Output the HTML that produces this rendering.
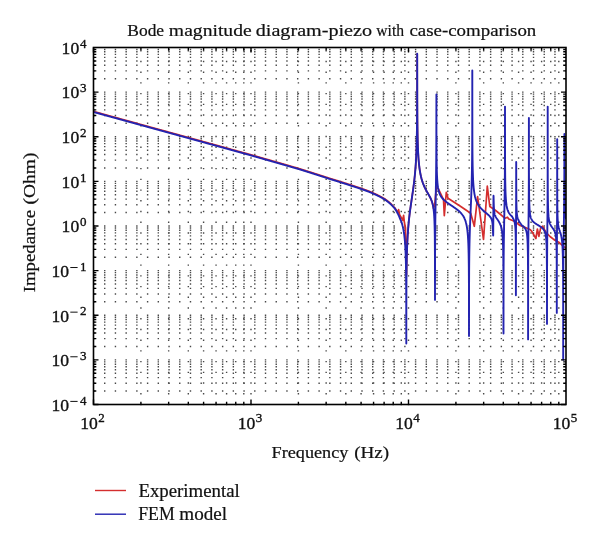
<!DOCTYPE html><html><head><meta charset="utf-8"><style>html,body{margin:0;padding:0;background:#fff;}svg{display:block;will-change:transform;}text{font-family:"Liberation Serif",serif;fill:#111;stroke:#111;stroke-width:0.35px;} text.w{stroke-width:0.22px;}</style></head><body>
<svg width="600" height="543" viewBox="0 0 600 543">
<rect x="0" y="0" width="600" height="543" fill="#fff"/>
<path d="M93.30 391.07H566.00 M93.30 383.21H566.00 M93.30 377.63H566.00 M93.30 373.31H566.00 M93.30 369.78H566.00 M93.30 366.79H566.00 M93.30 364.20H566.00 M93.30 361.92H566.00 M93.30 359.88H566.00 M93.30 346.44H566.00 M93.30 338.58H566.00 M93.30 333.01H566.00 M93.30 328.68H566.00 M93.30 325.15H566.00 M93.30 322.16H566.00 M93.30 319.57H566.00 M93.30 317.29H566.00 M93.30 315.25H566.00 M93.30 301.82H566.00 M93.30 293.96H566.00 M93.30 288.38H566.00 M93.30 284.06H566.00 M93.30 280.53H566.00 M93.30 277.54H566.00 M93.30 274.95H566.00 M93.30 272.67H566.00 M93.30 270.62H566.00 M93.30 257.19H566.00 M93.30 249.33H566.00 M93.30 243.76H566.00 M93.30 239.43H566.00 M93.30 235.90H566.00 M93.30 232.91H566.00 M93.30 230.32H566.00 M93.30 228.04H566.00 M93.30 226.00H566.00 M93.30 212.57H566.00 M93.30 204.71H566.00 M93.30 199.13H566.00 M93.30 194.81H566.00 M93.30 191.28H566.00 M93.30 188.29H566.00 M93.30 185.70H566.00 M93.30 183.42H566.00 M93.30 181.38H566.00 M93.30 167.94H566.00 M93.30 160.08H566.00 M93.30 154.51H566.00 M93.30 150.18H566.00 M93.30 146.65H566.00 M93.30 143.66H566.00 M93.30 141.07H566.00 M93.30 138.79H566.00 M93.30 136.75H566.00 M93.30 123.32H566.00 M93.30 115.46H566.00 M93.30 109.88H566.00 M93.30 105.56H566.00 M93.30 102.03H566.00 M93.30 99.04H566.00 M93.30 96.45H566.00 M93.30 94.17H566.00 M93.30 92.12H566.00 M93.30 78.69H566.00 M93.30 70.83H566.00 M93.30 65.26H566.00 M93.30 60.93H566.00 M93.30 57.40H566.00 M93.30 54.41H566.00 M93.30 51.82H566.00 M93.30 49.54H566.00" stroke="#484848" stroke-width="1.4" stroke-dasharray="1.4 9.32" fill="none"/>
<path d="M140.91 405.20V47.50 M168.65 405.20V47.50 M188.32 405.20V47.50 M203.59 405.20V47.50 M216.06 405.20V47.50 M226.60 405.20V47.50 M235.74 405.20V47.50 M243.79 405.20V47.50 M251.00 405.20V47.50 M298.41 405.20V47.50 M326.15 405.20V47.50 M345.82 405.20V47.50 M361.09 405.20V47.50 M373.56 405.20V47.50 M384.10 405.20V47.50 M393.24 405.20V47.50 M401.29 405.20V47.50 M408.50 405.20V47.50 M455.91 405.20V47.50 M483.65 405.20V47.50 M503.32 405.20V47.50 M518.59 405.20V47.50 M531.06 405.20V47.50 M541.60 405.20V47.50 M550.74 405.20V47.50 M558.79 405.20V47.50" stroke="#484848" stroke-width="1.4" stroke-dasharray="1.4 9.32" fill="none"/>
<clipPath id="cp"><rect x="93.5" y="46.5" width="472.5" height="359.0"/></clipPath>
<g clip-path="url(#cp)" fill="none" stroke-linejoin="round" stroke-linecap="round">
<path d="M93.50 111.43 93.74 111.49 93.97 111.56 94.21 111.62 94.45 111.69 94.68 111.75 94.92 111.82 95.15 111.88 95.39 111.95 95.63 112.01 95.86 112.08 96.10 112.14 96.34 112.21 96.57 112.27 96.81 112.34 97.04 112.40 97.28 112.47 97.52 112.53 97.75 112.60 97.99 112.66 98.23 112.73 98.46 112.79 98.70 112.86 98.93 112.92 99.17 112.99 99.41 113.05 99.64 113.12 99.88 113.18 100.12 113.25 100.35 113.31 100.59 113.38 100.82 113.44 101.06 113.51 101.30 113.57 101.53 113.64 101.77 113.70 102.01 113.77 102.24 113.83 102.48 113.90 102.71 113.96 102.95 114.03 103.19 114.09 103.42 114.16 103.66 114.22 103.90 114.29 104.13 114.35 104.37 114.42 104.61 114.48 104.84 114.55 105.08 114.61 105.31 114.68 105.55 114.74 105.79 114.81 106.02 114.87 106.26 114.94 106.50 115.00 106.73 115.07 106.97 115.13 107.20 115.20 107.44 115.26 107.68 115.32 107.91 115.39 108.15 115.45 108.39 115.52 108.62 115.58 108.86 115.65 109.09 115.71 109.33 115.78 109.57 115.84 109.80 115.91 110.04 115.97 110.28 116.04 110.51 116.10 110.75 116.17 110.98 116.23 111.22 116.30 111.46 116.36 111.69 116.43 111.93 116.49 112.17 116.56 112.40 116.62 112.64 116.69 112.87 116.75 113.11 116.82 113.35 116.88 113.58 116.95 113.82 117.01 114.06 117.08 114.29 117.14 114.53 117.21 114.77 117.27 115.00 117.34 115.24 117.40 115.47 117.47 115.71 117.53 115.95 117.60 116.18 117.66 116.42 117.73 116.66 117.79 116.89 117.86 117.13 117.92 117.36 117.99 117.60 118.05 117.84 118.12 118.07 118.18 118.31 118.25 118.55 118.31 118.78 118.38 119.02 118.44 119.25 118.51 119.49 118.57 119.73 118.64 119.96 118.70 120.20 118.77 120.44 118.83 120.67 118.90 120.91 118.96 121.14 119.03 121.38 119.09 121.62 119.16 121.85 119.22 122.09 119.29 122.33 119.35 122.56 119.42 122.80 119.48 123.03 119.55 123.27 119.61 123.51 119.68 123.74 119.74 123.98 119.81 124.22 119.87 124.45 119.94 124.69 120.00 124.93 120.07 125.16 120.13 125.40 120.20 125.63 120.26 125.87 120.33 126.11 120.39 126.34 120.46 126.58 120.52 126.82 120.59 127.05 120.65 127.29 120.72 127.52 120.78 127.76 120.85 128.00 120.91 128.23 120.98 128.47 121.04 128.71 121.11 128.94 121.17 129.18 121.24 129.41 121.30 129.65 121.37 129.89 121.43 130.12 121.49 130.36 121.56 130.60 121.62 130.83 121.69 131.07 121.75 131.30 121.82 131.54 121.88 131.78 121.95 132.01 122.01 132.25 122.08 132.49 122.14 132.72 122.21 132.96 122.27 133.19 122.34 133.43 122.40 133.67 122.47 133.90 122.53 134.14 122.60 134.38 122.66 134.61 122.73 134.85 122.79 135.09 122.86 135.32 122.92 135.56 122.99 135.79 123.05 136.03 123.12 136.27 123.18 136.50 123.25 136.74 123.31 136.98 123.38 137.21 123.44 137.45 123.51 137.68 123.57 137.92 123.64 138.16 123.70 138.39 123.77 138.63 123.83 138.87 123.90 139.10 123.96 139.34 124.03 139.57 124.09 139.81 124.16 140.05 124.22 140.28 124.29 140.52 124.35 140.76 124.42 140.99 124.48 141.23 124.55 141.46 124.61 141.70 124.68 141.94 124.74 142.17 124.81 142.41 124.87 142.65 124.94 142.88 125.00 143.12 125.07 143.35 125.13 143.59 125.20 143.83 125.26 144.06 125.33 144.30 125.39 144.54 125.46 144.77 125.52 145.01 125.59 145.25 125.65 145.48 125.72 145.72 125.78 145.95 125.85 146.19 125.91 146.43 125.98 146.66 126.04 146.90 126.11 147.14 126.17 147.37 126.24 147.61 126.30 147.84 126.37 148.08 126.43 148.32 126.50 148.55 126.56 148.79 126.63 149.03 126.69 149.26 126.76 149.50 126.82 149.73 126.89 149.97 126.95 150.21 127.02 150.44 127.08 150.68 127.15 150.92 127.21 151.15 127.28 151.39 127.34 151.62 127.41 151.86 127.47 152.10 127.54 152.33 127.60 152.57 127.67 152.81 127.73 153.04 127.80 153.28 127.86 153.52 127.93 153.75 127.99 153.99 128.06 154.22 128.12 154.46 128.19 154.70 128.25 154.93 128.32 155.17 128.38 155.41 128.45 155.64 128.51 155.88 128.58 156.11 128.64 156.35 128.71 156.59 128.77 156.82 128.84 157.06 128.90 157.30 128.97 157.53 129.03 157.77 129.09 158.00 129.16 158.24 129.22 158.48 129.29 158.71 129.35 158.95 129.42 159.19 129.48 159.42 129.55 159.66 129.61 159.89 129.68 160.13 129.74 160.37 129.81 160.60 129.87 160.84 129.94 161.08 130.00 161.31 130.07 161.55 130.13 161.78 130.20 162.02 130.26 162.26 130.33 162.49 130.39 162.73 130.46 162.97 130.52 163.20 130.59 163.44 130.65 163.68 130.72 163.91 130.78 164.15 130.85 164.38 130.91 164.62 130.98 164.86 131.04 165.09 131.11 165.33 131.17 165.57 131.24 165.80 131.30 166.04 131.37 166.27 131.43 166.51 131.50 166.75 131.56 166.98 131.63 167.22 131.69 167.46 131.76 167.69 131.82 167.93 131.89 168.16 131.95 168.40 132.02 168.64 132.08 168.87 132.15 169.11 132.21 169.35 132.28 169.58 132.34 169.82 132.41 170.05 132.47 170.29 132.54 170.53 132.60 170.76 132.67 171.00 132.73 171.24 132.80 171.47 132.86 171.71 132.93 171.94 132.99 172.18 133.06 172.42 133.12 172.65 133.19 172.89 133.25 173.13 133.32 173.36 133.38 173.60 133.45 173.84 133.51 174.07 133.58 174.31 133.64 174.54 133.71 174.78 133.77 175.02 133.84 175.25 133.90 175.49 133.97 175.73 134.03 175.96 134.10 176.20 134.16 176.43 134.23 176.67 134.29 176.91 134.36 177.14 134.42 177.38 134.49 177.62 134.55 177.85 134.62 178.09 134.68 178.32 134.75 178.56 134.81 178.80 134.88 179.03 134.94 179.27 135.01 179.51 135.07 179.74 135.14 179.98 135.20 180.21 135.27 180.45 135.33 180.69 135.40 180.92 135.46 181.16 135.53 181.40 135.59 181.63 135.66 181.87 135.72 182.10 135.79 182.34 135.85 182.58 135.92 182.81 135.98 183.05 136.05 183.29 136.11 183.52 136.18 183.76 136.24 184.00 136.31 184.23 136.37 184.47 136.44 184.70 136.50 184.94 136.57 185.18 136.63 185.41 136.70 185.65 136.76 185.89 136.83 186.12 136.89 186.36 136.96 186.59 137.02 186.83 137.09 187.07 137.15 187.30 137.22 187.54 137.28 187.78 137.35 188.01 137.41 188.25 137.48 188.48 137.54 188.72 137.61 188.96 137.67 189.19 137.74 189.43 137.80 189.67 137.87 189.90 137.93 190.14 138.00 190.37 138.06 190.61 138.13 190.85 138.19 191.08 138.26 191.32 138.32 191.56 138.39 191.79 138.45 192.03 138.52 192.26 138.58 192.50 138.65 192.74 138.71 192.97 138.78 193.21 138.84 193.45 138.91 193.68 138.97 193.92 139.04 194.16 139.10 194.39 139.17 194.63 139.23 194.86 139.30 195.10 139.36 195.34 139.43 195.57 139.49 195.81 139.56 196.05 139.62 196.28 139.69 196.52 139.75 196.75 139.82 196.99 139.88 197.23 139.95 197.46 140.01 197.70 140.08 197.94 140.14 198.17 140.21 198.41 140.27 198.64 140.34 198.88 140.40 199.12 140.47 199.35 140.53 199.59 140.60 199.83 140.66 200.06 140.73 200.30 140.79 200.53 140.86 200.77 140.92 201.01 140.99 201.24 141.05 201.48 141.12 201.72 141.18 201.95 141.25 202.19 141.31 202.42 141.38 202.66 141.44 202.90 141.51 203.13 141.57 203.37 141.64 203.61 141.70 203.84 141.77 204.08 141.83 204.32 141.90 204.55 141.96 204.79 142.03 205.02 142.09 205.26 142.16 205.50 142.23 205.73 142.29 205.97 142.36 206.21 142.42 206.44 142.49 206.68 142.55 206.91 142.62 207.15 142.68 207.39 142.75 207.62 142.81 207.86 142.88 208.10 142.94 208.33 143.01 208.57 143.07 208.80 143.14 209.04 143.20 209.28 143.27 209.51 143.33 209.75 143.40 209.99 143.46 210.22 143.53 210.46 143.59 210.69 143.66 210.93 143.72 211.17 143.79 211.40 143.85 211.64 143.92 211.88 143.98 212.11 144.05 212.35 144.11 212.58 144.18 212.82 144.24 213.06 144.31 213.29 144.37 213.53 144.44 213.77 144.50 214.00 144.57 214.24 144.63 214.48 144.70 214.71 144.76 214.95 144.83 215.18 144.89 215.42 144.96 215.66 145.02 215.89 145.09 216.13 145.15 216.37 145.22 216.60 145.28 216.84 145.35 217.07 145.41 217.31 145.48 217.55 145.54 217.78 145.61 218.02 145.67 218.26 145.74 218.49 145.80 218.73 145.87 218.96 145.93 219.20 146.00 219.44 146.06 219.67 146.13 219.91 146.20 220.15 146.26 220.38 146.33 220.62 146.39 220.85 146.46 221.09 146.52 221.33 146.59 221.56 146.65 221.80 146.72 222.04 146.78 222.27 146.85 222.51 146.91 222.74 146.98 222.98 147.04 223.22 147.11 223.45 147.17 223.69 147.24 223.93 147.30 224.16 147.37 224.40 147.43 224.64 147.50 224.87 147.56 225.11 147.63 225.34 147.69 225.58 147.76 225.82 147.82 226.05 147.89 226.29 147.95 226.53 148.02 226.76 148.08 227.00 148.15 227.23 148.21 227.47 148.28 227.71 148.34 227.94 148.41 228.18 148.48 228.42 148.54 228.65 148.61 228.89 148.67 229.12 148.74 229.36 148.80 229.60 148.87 229.83 148.93 230.07 149.00 230.31 149.06 230.54 149.13 230.78 149.19 231.01 149.26 231.25 149.32 231.49 149.39 231.72 149.45 231.96 149.52 232.20 149.58 232.43 149.65 232.67 149.71 232.90 149.78 233.14 149.84 233.38 149.91 233.61 149.97 233.85 150.04 234.09 150.10 234.32 150.17 234.56 150.24 234.80 150.30 235.03 150.37 235.27 150.43 235.50 150.50 235.74 150.56 235.98 150.63 236.21 150.69 236.45 150.76 236.69 150.82 236.92 150.89 237.16 150.95 237.39 151.02 237.63 151.08 237.87 151.15 238.10 151.21 238.34 151.28 238.58 151.34 238.81 151.41 239.05 151.47 239.28 151.54 239.52 151.61 239.76 151.67 239.99 151.74 240.23 151.80 240.47 151.87 240.70 151.93 240.94 152.00 241.17 152.06 241.41 152.13 241.65 152.19 241.88 152.26 242.12 152.32 242.36 152.39 242.59 152.45 242.83 152.52 243.06 152.58 243.30 152.65 243.54 152.71 243.77 152.78 244.01 152.85 244.25 152.91 244.48 152.98 244.72 153.04 244.96 153.11 245.19 153.17 245.43 153.24 245.66 153.30 245.90 153.37 246.14 153.43 246.37 153.50 246.61 153.56 246.85 153.63 247.08 153.69 247.32 153.76 247.55 153.83 247.79 153.89 248.03 153.96 248.26 154.02 248.50 154.09 248.74 154.15 248.97 154.22 249.21 154.28 249.44 154.35 249.68 154.41 249.92 154.48 250.15 154.55 250.39 154.61 250.63 154.68 250.86 154.75 251.10 154.81 251.33 154.88 251.57 154.95 251.81 155.02 252.04 155.08 252.28 155.15 252.52 155.22 252.75 155.29 252.99 155.35 253.22 155.42 253.46 155.49 253.70 155.55 253.93 155.62 254.17 155.69 254.41 155.76 254.64 155.82 254.88 155.89 255.12 155.96 255.35 156.03 255.59 156.09 255.82 156.16 256.06 156.23 256.30 156.30 256.53 156.36 256.77 156.43 257.01 156.50 257.24 156.57 257.48 156.63 257.71 156.70 257.95 156.77 258.19 156.83 258.42 156.90 258.66 156.97 258.90 157.04 259.13 157.10 259.37 157.17 259.60 157.24 259.84 157.31 260.08 157.37 260.31 157.44 260.55 157.51 260.79 157.58 261.02 157.64 261.26 157.71 261.49 157.78 261.73 157.85 261.97 157.91 262.20 157.98 262.44 158.05 262.68 158.12 262.91 158.18 263.15 158.25 263.38 158.32 263.62 158.39 263.86 158.45 264.09 158.52 264.33 158.59 264.57 158.66 264.80 158.72 265.04 158.79 265.28 158.86 265.51 158.93 265.75 158.99 265.98 159.06 266.22 159.13 266.46 159.20 266.69 159.26 266.93 159.33 267.17 159.40 267.40 159.47 267.64 159.53 267.87 159.60 268.11 159.67 268.35 159.74 268.58 159.80 268.82 159.87 269.06 159.94 269.29 160.01 269.53 160.07 269.76 160.14 270.00 160.21 270.24 160.28 270.47 160.34 270.71 160.41 270.95 160.48 271.18 160.55 271.42 160.62 271.65 160.68 271.89 160.75 272.13 160.82 272.36 160.89 272.60 160.95 272.84 161.02 273.07 161.09 273.31 161.16 273.55 161.22 273.78 161.29 274.02 161.36 274.25 161.43 274.49 161.50 274.73 161.56 274.96 161.63 275.20 161.70 275.44 161.77 275.67 161.83 275.91 161.90 276.14 161.97 276.38 162.04 276.62 162.11 276.85 162.17 277.09 162.24 277.33 162.31 277.56 162.38 277.80 162.44 278.03 162.51 278.27 162.58 278.51 162.65 278.74 162.72 278.98 162.78 279.22 162.85 279.45 162.92 279.69 162.99 279.92 163.06 280.16 163.12 280.40 163.19 280.63 163.26 280.87 163.33 281.11 163.39 281.34 163.46 281.58 163.53 281.81 163.60 282.05 163.67 282.29 163.73 282.52 163.80 282.76 163.87 283.00 163.94 283.23 164.01 283.47 164.07 283.71 164.14 283.94 164.21 284.18 164.28 284.41 164.35 284.65 164.41 284.89 164.48 285.12 164.55 285.36 164.62 285.60 164.69 285.83 164.76 286.07 164.82 286.30 164.89 286.54 164.96 286.78 165.03 287.01 165.10 287.25 165.16 287.49 165.23 287.72 165.30 287.96 165.37 288.19 165.44 288.43 165.50 288.67 165.57 288.90 165.64 289.14 165.71 289.38 165.78 289.61 165.85 289.85 165.91 290.08 165.98 290.32 166.05 290.56 166.12 290.79 166.19 291.03 166.26 291.27 166.32 291.50 166.39 291.74 166.46 291.97 166.53 292.21 166.60 292.45 166.67 292.68 166.73 292.92 166.80 293.16 166.87 293.39 166.94 293.63 167.01 293.87 167.08 294.10 167.15 294.34 167.21 294.57 167.28 294.81 167.35 295.05 167.42 295.28 167.49 295.52 167.56 295.76 167.63 295.99 167.69 296.23 167.76 296.46 167.83 296.70 167.90 296.94 167.97 297.17 168.04 297.41 168.11 297.65 168.17 297.88 168.24 298.12 168.31 298.35 168.38 298.59 168.45 298.83 168.52 299.06 168.59 299.30 168.66 299.54 168.72 299.77 168.79 300.01 168.86 300.24 168.94 300.48 169.01 300.72 169.08 300.95 169.16 301.19 169.23 301.43 169.31 301.66 169.38 301.90 169.45 302.13 169.53 302.37 169.60 302.61 169.68 302.84 169.75 303.08 169.83 303.32 169.90 303.55 169.97 303.79 170.05 304.03 170.12 304.26 170.20 304.50 170.27 304.73 170.35 304.97 170.42 305.21 170.49 305.44 170.57 305.68 170.64 305.92 170.72 306.15 170.79 306.39 170.87 306.62 170.94 306.86 171.02 307.10 171.09 307.33 171.16 307.57 171.24 307.81 171.31 308.04 171.39 308.28 171.46 308.51 171.54 308.75 171.61 308.99 171.69 309.22 171.76 309.46 171.84 309.70 171.91 309.93 171.99 310.17 172.06 310.40 172.13 310.64 172.21 310.88 172.28 311.11 172.36 311.35 172.43 311.59 172.51 311.82 172.58 312.06 172.66 312.29 172.73 312.53 172.81 312.77 172.88 313.00 172.96 313.24 173.03 313.48 173.11 313.71 173.18 313.95 173.26 314.19 173.33 314.42 173.41 314.66 173.48 314.89 173.56 315.13 173.64 315.37 173.71 315.60 173.79 315.84 173.86 316.08 173.94 316.31 174.01 316.55 174.09 316.78 174.16 317.02 174.24 317.26 174.31 317.49 174.39 317.73 174.46 317.97 174.54 318.20 174.62 318.44 174.69 318.67 174.77 318.91 174.84 319.15 174.92 319.38 174.99 319.62 175.07 319.86 175.15 320.09 175.22 320.33 175.30 320.56 175.37 320.80 175.45 321.04 175.53 321.27 175.60 321.51 175.68 321.75 175.75 321.98 175.83 322.22 175.91 322.45 175.98 322.69 176.06 322.93 176.13 323.16 176.21 323.40 176.29 323.64 176.36 323.87 176.44 324.11 176.52 324.35 176.59 324.58 176.67 324.82 176.74 325.05 176.82 325.29 176.90 325.53 176.97 325.76 177.05 326.00 177.13 326.24 177.20 326.47 177.28 326.71 177.36 326.94 177.43 327.18 177.51 327.42 177.59 327.65 177.67 327.89 177.74 328.13 177.82 328.36 177.90 328.60 177.97 328.83 178.05 329.07 178.13 329.31 178.20 329.54 178.28 329.78 178.36 330.02 178.44 330.25 178.51 330.49 178.58 330.72 178.65 330.96 178.72 331.20 178.79 331.43 178.87 331.67 178.94 331.91 179.01 332.14 179.08 332.38 179.15 332.61 179.23 332.85 179.30 333.09 179.37 333.32 179.44 333.56 179.51 333.80 179.59 334.03 179.66 334.27 179.73 334.51 179.80 334.74 179.87 334.98 179.95 335.21 180.02 335.45 180.09 335.69 180.17 335.92 180.24 336.16 180.31 336.40 180.38 336.63 180.46 336.87 180.53 337.10 180.60 337.34 180.67 337.58 180.75 337.81 180.82 338.05 180.89 338.29 180.97 338.52 181.04 338.76 181.11 338.99 181.19 339.23 181.26 339.47 181.33 339.70 181.41 339.94 181.48 340.18 181.56 340.41 181.63 340.65 181.70 340.88 181.78 341.12 181.85 341.36 181.93 341.59 182.00 341.83 182.07 342.07 182.15 342.30 182.22 342.54 182.30 342.77 182.37 343.01 182.45 343.25 182.52 343.48 182.60 343.72 182.67 343.96 182.75 344.19 182.82 344.43 182.90 344.67 182.97 344.90 183.05 345.14 183.12 345.37 183.20 345.61 183.27 345.85 183.35 346.08 183.42 346.32 183.50 346.56 183.58 346.79 183.65 347.03 183.73 347.26 183.80 347.50 183.88 347.74 183.96 347.97 184.03 348.21 184.11 348.45 184.19 348.68 184.26 348.92 184.34 349.15 184.42 349.39 184.49 349.63 184.57 349.86 184.65 350.10 184.72 350.34 184.80 350.57 184.87 350.81 184.95 351.04 185.02 351.28 185.10 351.52 185.18 351.75 185.25 351.99 185.33 352.23 185.40 352.46 185.48 352.70 185.56 352.93 185.63 353.17 185.71 353.41 185.79 353.64 185.86 353.88 185.94 354.12 186.02 354.35 186.09 354.59 186.17 354.83 186.25 355.06 186.32 355.30 186.40 355.53 186.48 355.77 186.56 356.01 186.64 356.24 186.71 356.48 186.79 356.72 186.87 356.95 186.95 357.19 187.03 357.42 187.11 357.66 187.19 357.90 187.27 358.13 187.35 358.37 187.43 358.61 187.51 358.84 187.59 359.08 187.67 359.31 187.75 359.55 187.83 359.79 187.91 360.02 187.99 360.26 188.07 360.50 188.15 360.73 188.23 360.97 188.31 361.20 188.39 361.44 188.48 361.68 188.56 361.91 188.64 362.15 188.72 362.39 188.81 362.62 188.89 362.86 188.97 363.09 189.06 363.33 189.14 363.57 189.22 363.80 189.31 364.04 189.39 364.28 189.48 364.51 189.56 364.75 189.65 364.99 189.73 365.22 189.82 365.46 189.90 365.69 189.99 365.93 190.08 366.17 190.16 366.40 190.25 366.64 190.34 366.88 190.42 367.11 190.51 367.35 190.60 367.58 190.69 367.82 190.78 368.06 190.86 368.29 190.95 368.53 191.04 368.77 191.13 369.00 191.22 369.24 191.31 369.47 191.40 369.71 191.50 369.95 191.59 370.18 191.68 370.42 191.78 370.66 191.88 370.89 191.98 371.13 192.08 371.36 192.19 371.60 192.29 371.84 192.39 372.07 192.49 372.31 192.59 372.55 192.70 372.78 192.80 373.02 192.91 373.25 193.01 373.49 193.11 373.73 193.22 373.96 193.33 374.20 193.43 374.44 193.54 374.67 193.65 374.91 193.75 375.15 193.86 375.38 193.97 375.62 194.08 375.85 194.19 376.09 194.30 376.33 194.41 376.56 194.52 376.80 194.63 377.04 194.75 377.27 194.86 377.51 194.97 377.74 195.09 377.98 195.20 378.22 195.32 378.45 195.44 378.69 195.55 378.93 195.67 379.16 195.79 379.40 195.91 379.63 196.03 379.87 196.15 380.11 196.27 380.34 196.40 380.58 196.52 380.82 196.64 381.05 196.77 381.29 196.90 381.52 197.02 381.76 197.15 382.00 197.28 382.23 197.41 382.47 197.54 382.71 197.67 382.94 197.81 383.18 197.94 383.41 198.08 383.65 198.21 383.89 198.35 384.12 198.49 384.36 198.63 384.60 198.77 384.83 198.91 385.07 199.06 385.31 199.23 385.54 199.40 385.78 199.58 386.01 199.75 386.25 199.93 386.49 200.10 386.72 200.28 386.96 200.46 387.20 200.65 387.43 200.83 387.67 201.02 387.90 201.20 388.14 201.39 388.38 201.59 388.61 201.78 388.85 201.98 389.09 202.18 389.32 202.38 389.56 202.58 389.79 202.79 390.03 202.99 390.27 203.21 390.50 203.42 390.74 203.64 390.98 203.86 391.21 204.08 391.45 204.30 391.68 204.53 391.92 204.77 392.16 205.00 392.39 205.24 392.63 205.49 392.87 205.73 393.10 205.99 393.34 206.24 393.58 206.50 393.81 206.77 393.99 206.97 394.17 207.18 394.34 207.39 394.52 207.60 394.70 207.81 394.87 208.03 398.00 212.60 398.60 209.60 399.60 214.80 401.50 218.00 402.80 220.40 403.60 215.40 404.40 222.50 405.50 228.00 406.51 274.60 406.57 269.70 406.63 265.75 406.69 262.43 406.75 259.56 406.81 257.03 406.87 254.76 406.92 252.71 406.98 250.83 407.04 249.10 407.10 247.48 407.16 245.98 407.22 244.56 407.28 243.22 407.34 241.95 407.40 240.75 407.46 239.59 407.52 238.49 407.57 237.44 407.63 236.42 407.69 235.45 407.75 234.50 407.81 233.59 407.87 232.71 407.93 231.85 407.99 231.02 408.05 230.21 408.11 229.43 408.17 228.66 408.22 227.91 408.28 227.18 408.34 226.46 408.40 225.77 408.46 225.08 408.52 224.41 408.58 223.75 408.64 223.10 408.70 222.47 408.76 221.85 408.82 221.23 408.87 220.63 408.93 220.03 408.99 219.45 409.05 218.90 409.11 218.37 409.17 217.85 409.23 217.33 409.29 216.83 409.35 216.32 409.41 215.83 409.46 215.34 409.52 214.85 409.58 214.37 409.64 213.90 409.70 213.43 409.76 212.96 409.82 212.50 409.88 212.05 409.94 211.60 410.00 211.15 410.06 210.70 410.11 210.26 410.17 209.83 410.23 209.39 410.29 208.96 410.35 208.53 410.41 208.10 410.47 207.68 410.53 207.26 410.59 206.84 410.65 206.42 410.71 206.01 410.76 205.60 410.82 205.19 410.88 204.78 410.94 204.37 411.00 203.96 411.06 203.56 411.12 203.15 411.18 202.75 411.24 202.35 411.30 201.95 411.36 201.55 411.41 201.15 411.47 200.75 411.53 200.35 411.59 199.96 411.65 199.56 411.71 199.16 411.77 198.76 411.83 198.37 411.89 197.97 411.95 197.57 412.00 197.17 412.06 196.77 412.12 196.38 412.18 195.98 412.24 195.58 412.30 195.17 412.36 194.77 412.42 194.37 412.48 193.97 412.54 193.56 412.60 193.15 412.65 192.75 412.71 192.34 412.77 191.92 412.83 191.51 412.89 191.10 412.95 190.68 413.01 190.26 413.07 189.84 413.13 189.41 413.19 188.99 413.25 188.56 413.30 188.12 413.36 187.69 413.42 187.25 413.48 186.81 413.54 186.36 413.60 185.91 413.66 185.46 413.72 185.00 413.78 184.54 413.84 184.07 413.90 183.60 413.95 183.13 414.01 182.64 414.07 182.16 414.13 181.66 414.19 181.17 414.25 180.66 414.31 180.15 414.37 179.63 414.43 179.10 414.49 178.57 414.54 178.03 414.60 177.48 414.66 176.92 414.72 176.35 414.78 175.77 414.84 175.18 414.90 174.58 414.96 173.97 415.02 173.34 415.08 172.70 415.14 172.05 415.19 171.38 415.25 170.70 415.31 170.00 415.37 169.28 415.43 168.54 415.49 167.78 415.55 167.00 415.61 166.19 415.67 165.36 415.73 164.50 415.79 163.61 415.84 162.69 415.90 161.73 415.96 160.73 416.02 159.69 416.08 158.60 416.14 157.46 416.20 156.26 416.26 154.99 416.32 153.64 416.38 152.21 416.44 150.68 416.49 149.04 416.55 147.25 416.61 145.31 416.67 143.17 416.73 140.79 416.79 138.10 416.85 135.01 416.91 131.36 416.97 126.91 417.03 121.17 417.08 113.08 417.14 99.13 417.20 53.80 417.20 56.30 417.26 100.90 417.32 113.73 417.38 121.34 417.44 126.75 417.50 130.95 417.56 134.37 417.62 137.26 417.68 139.75 417.73 141.95 417.79 143.90 417.85 145.67 417.91 147.27 417.97 148.75 418.03 150.10 418.09 151.36 418.15 152.54 418.21 153.64 418.27 154.67 418.33 155.65 418.38 156.57 418.44 157.45 418.50 158.28 418.56 159.07 418.62 159.83 418.68 160.55 418.74 161.24 418.80 161.90 418.86 162.54 418.92 163.16 418.98 163.75 419.03 164.32 419.09 164.87 419.15 165.40 419.21 165.92 419.27 166.42 419.33 166.90 419.39 167.37 419.45 167.82 419.51 168.27 419.57 168.70 419.62 169.11 419.68 169.52 419.74 169.92 419.80 170.31 419.86 170.68 419.92 171.05 419.98 171.41 420.04 171.76 420.10 172.10 420.16 172.44 420.22 172.77 420.27 173.09 420.33 173.40 420.39 173.71 420.45 174.01 420.51 174.31 420.57 174.60 420.63 174.88 420.69 175.16 420.75 175.44 420.81 175.70 420.87 175.97 420.92 176.23 420.98 176.48 421.04 176.73 421.10 176.98 421.16 177.22 421.22 177.46 421.28 177.69 421.34 177.92 421.40 178.15 421.46 178.37 421.52 178.59 421.57 178.81 421.63 179.03 421.69 179.24 421.75 179.44 421.81 179.65 421.87 179.85 421.99 180.25 422.11 180.63 422.22 181.01 422.34 181.37 422.46 181.73 422.58 182.08 422.70 182.42 422.81 182.76 422.93 183.08 423.05 183.40 423.17 183.71 423.29 184.02 423.41 184.32 423.52 184.62 423.64 184.91 423.76 185.19 423.88 185.47 424.00 185.74 424.11 186.01 424.23 186.28 424.35 186.54 424.47 186.80 424.59 187.05 424.70 187.31 424.82 187.55 424.94 187.80 425.06 188.04 425.18 188.28 425.30 188.52 425.41 188.76 425.53 189.00 425.65 189.23 425.77 189.46 425.89 189.69 426.00 189.91 426.12 190.14 426.24 190.36 426.36 190.58 426.48 190.80 426.60 191.02 426.71 191.24 426.83 191.45 426.95 191.66 427.07 191.88 427.19 192.09 427.30 192.30 427.42 192.51 427.54 192.72 427.66 192.93 427.78 193.14 427.89 193.35 428.01 193.56 428.13 193.76 428.25 193.97 428.37 194.18 428.49 194.39 428.60 194.60 428.72 194.81 428.84 195.02 428.96 195.23 429.08 195.45 429.19 195.66 429.31 195.88 429.43 196.10 429.55 196.32 429.67 196.54 429.78 196.76 429.90 196.99 430.02 197.22 430.14 197.45 430.26 197.69 430.38 197.93 430.49 198.17 430.61 198.42 430.73 198.67 430.85 198.93 430.97 199.20 431.08 199.47 431.20 199.75 431.32 200.03 431.44 200.33 431.56 200.63 431.68 200.95 431.79 201.27 431.91 201.61 432.03 201.97 432.15 202.33 432.27 202.72 432.32 202.92 432.38 203.13 432.44 203.34 432.50 203.56 432.56 203.78 432.62 204.01 432.68 204.24 432.74 204.49 432.80 204.74 432.86 205.00 432.92 205.27 432.97 205.55 433.03 205.84 433.09 206.15 433.15 206.46 433.21 206.79 433.27 207.13 433.33 207.49 433.39 207.86 433.45 208.25 434.60 205.50 436.40 187.00 438.50 189.00 441.00 194.30 443.50 199.50 444.30 215.70 446.30 192.30 448.00 198.30 460.00 206.00 470.70 213.30 474.30 226.30 477.60 196.60 483.50 239.50 487.30 186.00 489.80 206.50 495.00 210.00 500.00 214.00 505.00 218.30 507.50 217.20 508.80 219.00 515.00 221.50 520.00 225.50 526.00 227.80 530.40 229.70 532.20 232.00 535.90 238.50 537.40 229.00 538.90 236.40 540.70 227.90 542.60 226.20 544.20 229.20 546.20 232.60 550.00 236.50 554.00 239.70 559.30 242.60 563.40 246.50 566.50 248.30" stroke="#d42e2e" stroke-width="1.7"/>
<path d="M93.50 112.03 93.74 112.09 93.97 112.16 94.21 112.22 94.45 112.29 94.68 112.35 94.92 112.42 95.15 112.48 95.39 112.55 95.63 112.61 95.86 112.68 96.10 112.74 96.34 112.81 96.57 112.87 96.81 112.94 97.04 113.00 97.28 113.07 97.52 113.13 97.75 113.20 97.99 113.26 98.23 113.33 98.46 113.39 98.70 113.46 98.93 113.52 99.17 113.59 99.41 113.65 99.64 113.72 99.88 113.78 100.12 113.85 100.35 113.91 100.59 113.98 100.82 114.04 101.06 114.11 101.30 114.17 101.53 114.24 101.77 114.30 102.01 114.37 102.24 114.43 102.48 114.50 102.71 114.56 102.95 114.63 103.19 114.69 103.42 114.76 103.66 114.82 103.90 114.89 104.13 114.95 104.37 115.02 104.61 115.08 104.84 115.15 105.08 115.21 105.31 115.28 105.55 115.34 105.79 115.41 106.02 115.47 106.26 115.54 106.50 115.60 106.73 115.67 106.97 115.73 107.20 115.80 107.44 115.86 107.68 115.92 107.91 115.99 108.15 116.05 108.39 116.12 108.62 116.18 108.86 116.25 109.09 116.31 109.33 116.38 109.57 116.44 109.80 116.51 110.04 116.57 110.28 116.64 110.51 116.70 110.75 116.77 110.98 116.83 111.22 116.90 111.46 116.96 111.69 117.03 111.93 117.09 112.17 117.16 112.40 117.22 112.64 117.29 112.87 117.35 113.11 117.42 113.35 117.48 113.58 117.55 113.82 117.61 114.06 117.68 114.29 117.74 114.53 117.81 114.77 117.87 115.00 117.94 115.24 118.00 115.47 118.07 115.71 118.13 115.95 118.20 116.18 118.26 116.42 118.33 116.66 118.39 116.89 118.46 117.13 118.52 117.36 118.59 117.60 118.65 117.84 118.72 118.07 118.78 118.31 118.85 118.55 118.91 118.78 118.98 119.02 119.04 119.25 119.11 119.49 119.17 119.73 119.24 119.96 119.30 120.20 119.37 120.44 119.43 120.67 119.50 120.91 119.56 121.14 119.63 121.38 119.69 121.62 119.76 121.85 119.82 122.09 119.89 122.33 119.95 122.56 120.02 122.80 120.08 123.03 120.15 123.27 120.21 123.51 120.28 123.74 120.34 123.98 120.41 124.22 120.47 124.45 120.54 124.69 120.60 124.93 120.67 125.16 120.73 125.40 120.80 125.63 120.86 125.87 120.93 126.11 120.99 126.34 121.06 126.58 121.12 126.82 121.19 127.05 121.25 127.29 121.32 127.52 121.38 127.76 121.45 128.00 121.51 128.23 121.58 128.47 121.64 128.71 121.71 128.94 121.77 129.18 121.84 129.41 121.90 129.65 121.97 129.89 122.03 130.12 122.09 130.36 122.16 130.60 122.22 130.83 122.29 131.07 122.35 131.30 122.42 131.54 122.48 131.78 122.55 132.01 122.61 132.25 122.68 132.49 122.74 132.72 122.81 132.96 122.87 133.19 122.94 133.43 123.00 133.67 123.07 133.90 123.13 134.14 123.20 134.38 123.26 134.61 123.33 134.85 123.39 135.09 123.46 135.32 123.52 135.56 123.59 135.79 123.65 136.03 123.72 136.27 123.78 136.50 123.85 136.74 123.91 136.98 123.98 137.21 124.04 137.45 124.11 137.68 124.17 137.92 124.24 138.16 124.30 138.39 124.37 138.63 124.43 138.87 124.50 139.10 124.56 139.34 124.63 139.57 124.69 139.81 124.76 140.05 124.82 140.28 124.89 140.52 124.95 140.76 125.02 140.99 125.08 141.23 125.15 141.46 125.21 141.70 125.28 141.94 125.34 142.17 125.41 142.41 125.47 142.65 125.54 142.88 125.60 143.12 125.67 143.35 125.73 143.59 125.80 143.83 125.86 144.06 125.93 144.30 125.99 144.54 126.06 144.77 126.12 145.01 126.19 145.25 126.25 145.48 126.32 145.72 126.38 145.95 126.45 146.19 126.51 146.43 126.58 146.66 126.64 146.90 126.71 147.14 126.77 147.37 126.84 147.61 126.90 147.84 126.97 148.08 127.03 148.32 127.10 148.55 127.16 148.79 127.23 149.03 127.29 149.26 127.36 149.50 127.42 149.73 127.49 149.97 127.55 150.21 127.62 150.44 127.68 150.68 127.75 150.92 127.81 151.15 127.88 151.39 127.94 151.62 128.01 151.86 128.07 152.10 128.14 152.33 128.20 152.57 128.27 152.81 128.33 153.04 128.40 153.28 128.46 153.52 128.53 153.75 128.59 153.99 128.66 154.22 128.72 154.46 128.79 154.70 128.85 154.93 128.92 155.17 128.98 155.41 129.05 155.64 129.11 155.88 129.18 156.11 129.24 156.35 129.31 156.59 129.37 156.82 129.44 157.06 129.50 157.30 129.57 157.53 129.63 157.77 129.69 158.00 129.76 158.24 129.82 158.48 129.89 158.71 129.95 158.95 130.02 159.19 130.08 159.42 130.15 159.66 130.21 159.89 130.28 160.13 130.34 160.37 130.41 160.60 130.47 160.84 130.54 161.08 130.60 161.31 130.67 161.55 130.73 161.78 130.80 162.02 130.86 162.26 130.93 162.49 130.99 162.73 131.06 162.97 131.12 163.20 131.19 163.44 131.25 163.68 131.32 163.91 131.38 164.15 131.45 164.38 131.51 164.62 131.58 164.86 131.64 165.09 131.71 165.33 131.77 165.57 131.84 165.80 131.90 166.04 131.97 166.27 132.03 166.51 132.10 166.75 132.16 166.98 132.23 167.22 132.29 167.46 132.36 167.69 132.42 167.93 132.49 168.16 132.55 168.40 132.62 168.64 132.68 168.87 132.75 169.11 132.81 169.35 132.88 169.58 132.94 169.82 133.01 170.05 133.07 170.29 133.14 170.53 133.20 170.76 133.27 171.00 133.33 171.24 133.40 171.47 133.46 171.71 133.53 171.94 133.59 172.18 133.66 172.42 133.72 172.65 133.79 172.89 133.85 173.13 133.92 173.36 133.98 173.60 134.05 173.84 134.11 174.07 134.18 174.31 134.24 174.54 134.31 174.78 134.37 175.02 134.44 175.25 134.50 175.49 134.57 175.73 134.63 175.96 134.70 176.20 134.76 176.43 134.83 176.67 134.89 176.91 134.96 177.14 135.02 177.38 135.09 177.62 135.15 177.85 135.22 178.09 135.28 178.32 135.35 178.56 135.41 178.80 135.48 179.03 135.54 179.27 135.61 179.51 135.67 179.74 135.74 179.98 135.80 180.21 135.87 180.45 135.93 180.69 136.00 180.92 136.06 181.16 136.13 181.40 136.19 181.63 136.26 181.87 136.32 182.10 136.39 182.34 136.45 182.58 136.52 182.81 136.58 183.05 136.65 183.29 136.71 183.52 136.78 183.76 136.84 184.00 136.91 184.23 136.97 184.47 137.04 184.70 137.10 184.94 137.17 185.18 137.23 185.41 137.30 185.65 137.36 185.89 137.43 186.12 137.49 186.36 137.56 186.59 137.62 186.83 137.69 187.07 137.75 187.30 137.82 187.54 137.88 187.78 137.95 188.01 138.01 188.25 138.08 188.48 138.14 188.72 138.21 188.96 138.27 189.19 138.34 189.43 138.40 189.67 138.47 189.90 138.53 190.14 138.60 190.37 138.66 190.61 138.73 190.85 138.79 191.08 138.86 191.32 138.92 191.56 138.99 191.79 139.05 192.03 139.12 192.26 139.18 192.50 139.25 192.74 139.31 192.97 139.38 193.21 139.44 193.45 139.51 193.68 139.57 193.92 139.64 194.16 139.70 194.39 139.77 194.63 139.83 194.86 139.90 195.10 139.96 195.34 140.03 195.57 140.09 195.81 140.16 196.05 140.22 196.28 140.29 196.52 140.35 196.75 140.42 196.99 140.48 197.23 140.55 197.46 140.61 197.70 140.68 197.94 140.74 198.17 140.81 198.41 140.87 198.64 140.94 198.88 141.00 199.12 141.07 199.35 141.13 199.59 141.20 199.83 141.26 200.06 141.33 200.30 141.39 200.53 141.46 200.77 141.52 201.01 141.59 201.24 141.65 201.48 141.72 201.72 141.78 201.95 141.85 202.19 141.91 202.42 141.98 202.66 142.04 202.90 142.11 203.13 142.17 203.37 142.24 203.61 142.30 203.84 142.37 204.08 142.43 204.32 142.50 204.55 142.56 204.79 142.63 205.02 142.69 205.26 142.76 205.50 142.83 205.73 142.89 205.97 142.96 206.21 143.02 206.44 143.09 206.68 143.15 206.91 143.22 207.15 143.28 207.39 143.35 207.62 143.41 207.86 143.48 208.10 143.54 208.33 143.61 208.57 143.67 208.80 143.74 209.04 143.80 209.28 143.87 209.51 143.93 209.75 144.00 209.99 144.06 210.22 144.13 210.46 144.19 210.69 144.26 210.93 144.32 211.17 144.39 211.40 144.45 211.64 144.52 211.88 144.58 212.11 144.65 212.35 144.71 212.58 144.78 212.82 144.84 213.06 144.91 213.29 144.97 213.53 145.04 213.77 145.10 214.00 145.17 214.24 145.23 214.48 145.30 214.71 145.36 214.95 145.43 215.18 145.49 215.42 145.56 215.66 145.62 215.89 145.69 216.13 145.75 216.37 145.82 216.60 145.88 216.84 145.95 217.07 146.01 217.31 146.08 217.55 146.14 217.78 146.21 218.02 146.27 218.26 146.34 218.49 146.40 218.73 146.47 218.96 146.53 219.20 146.60 219.44 146.66 219.67 146.73 219.91 146.80 220.15 146.86 220.38 146.93 220.62 146.99 220.85 147.06 221.09 147.12 221.33 147.19 221.56 147.25 221.80 147.32 222.04 147.38 222.27 147.45 222.51 147.51 222.74 147.58 222.98 147.64 223.22 147.71 223.45 147.77 223.69 147.84 223.93 147.90 224.16 147.97 224.40 148.03 224.64 148.10 224.87 148.16 225.11 148.23 225.34 148.29 225.58 148.36 225.82 148.42 226.05 148.49 226.29 148.55 226.53 148.62 226.76 148.68 227.00 148.75 227.23 148.81 227.47 148.88 227.71 148.94 227.94 149.01 228.18 149.08 228.42 149.14 228.65 149.21 228.89 149.27 229.12 149.34 229.36 149.40 229.60 149.47 229.83 149.53 230.07 149.60 230.31 149.66 230.54 149.73 230.78 149.79 231.01 149.86 231.25 149.92 231.49 149.99 231.72 150.05 231.96 150.12 232.20 150.18 232.43 150.25 232.67 150.31 232.90 150.38 233.14 150.44 233.38 150.51 233.61 150.57 233.85 150.64 234.09 150.70 234.32 150.77 234.56 150.84 234.80 150.90 235.03 150.97 235.27 151.03 235.50 151.10 235.74 151.16 235.98 151.23 236.21 151.29 236.45 151.36 236.69 151.42 236.92 151.49 237.16 151.55 237.39 151.62 237.63 151.68 237.87 151.75 238.10 151.81 238.34 151.88 238.58 151.94 238.81 152.01 239.05 152.07 239.28 152.14 239.52 152.21 239.76 152.27 239.99 152.34 240.23 152.40 240.47 152.47 240.70 152.53 240.94 152.60 241.17 152.66 241.41 152.73 241.65 152.79 241.88 152.86 242.12 152.92 242.36 152.99 242.59 153.05 242.83 153.12 243.06 153.18 243.30 153.25 243.54 153.31 243.77 153.38 244.01 153.45 244.25 153.51 244.48 153.58 244.72 153.64 244.96 153.71 245.19 153.77 245.43 153.84 245.66 153.90 245.90 153.97 246.14 154.03 246.37 154.10 246.61 154.16 246.85 154.23 247.08 154.29 247.32 154.36 247.55 154.43 247.79 154.49 248.03 154.56 248.26 154.62 248.50 154.69 248.74 154.75 248.97 154.82 249.21 154.88 249.44 154.95 249.68 155.01 249.92 155.08 250.15 155.15 250.39 155.21 250.63 155.28 250.86 155.35 251.10 155.41 251.33 155.48 251.57 155.55 251.81 155.62 252.04 155.68 252.28 155.75 252.52 155.82 252.75 155.89 252.99 155.95 253.22 156.02 253.46 156.09 253.70 156.15 253.93 156.22 254.17 156.29 254.41 156.36 254.64 156.42 254.88 156.49 255.12 156.56 255.35 156.63 255.59 156.69 255.82 156.76 256.06 156.83 256.30 156.90 256.53 156.96 256.77 157.03 257.01 157.10 257.24 157.17 257.48 157.23 257.71 157.30 257.95 157.37 258.19 157.43 258.42 157.50 258.66 157.57 258.90 157.64 259.13 157.70 259.37 157.77 259.60 157.84 259.84 157.91 260.08 157.97 260.31 158.04 260.55 158.11 260.79 158.18 261.02 158.24 261.26 158.31 261.49 158.38 261.73 158.45 261.97 158.51 262.20 158.58 262.44 158.65 262.68 158.72 262.91 158.78 263.15 158.85 263.38 158.92 263.62 158.99 263.86 159.05 264.09 159.12 264.33 159.19 264.57 159.26 264.80 159.32 265.04 159.39 265.28 159.46 265.51 159.53 265.75 159.59 265.98 159.66 266.22 159.73 266.46 159.80 266.69 159.86 266.93 159.93 267.17 160.00 267.40 160.07 267.64 160.13 267.87 160.20 268.11 160.27 268.35 160.34 268.58 160.40 268.82 160.47 269.06 160.54 269.29 160.61 269.53 160.67 269.76 160.74 270.00 160.81 270.24 160.88 270.47 160.94 270.71 161.01 270.95 161.08 271.18 161.15 271.42 161.22 271.65 161.28 271.89 161.35 272.13 161.42 272.36 161.49 272.60 161.55 272.84 161.62 273.07 161.69 273.31 161.76 273.55 161.82 273.78 161.89 274.02 161.96 274.25 162.03 274.49 162.10 274.73 162.16 274.96 162.23 275.20 162.30 275.44 162.37 275.67 162.43 275.91 162.50 276.14 162.57 276.38 162.64 276.62 162.71 276.85 162.77 277.09 162.84 277.33 162.91 277.56 162.98 277.80 163.04 278.03 163.11 278.27 163.18 278.51 163.25 278.74 163.32 278.98 163.38 279.22 163.45 279.45 163.52 279.69 163.59 279.92 163.66 280.16 163.72 280.40 163.79 280.63 163.86 280.87 163.93 281.11 163.99 281.34 164.06 281.58 164.13 281.81 164.20 282.05 164.27 282.29 164.33 282.52 164.40 282.76 164.47 283.00 164.54 283.23 164.61 283.47 164.67 283.71 164.74 283.94 164.81 284.18 164.88 284.41 164.95 284.65 165.01 284.89 165.08 285.12 165.15 285.36 165.22 285.60 165.29 285.83 165.36 286.07 165.42 286.30 165.49 286.54 165.56 286.78 165.63 287.01 165.70 287.25 165.76 287.49 165.83 287.72 165.90 287.96 165.97 288.19 166.04 288.43 166.10 288.67 166.17 288.90 166.24 289.14 166.31 289.38 166.38 289.61 166.45 289.85 166.51 290.08 166.58 290.32 166.65 290.56 166.72 290.79 166.79 291.03 166.86 291.27 166.92 291.50 166.99 291.74 167.06 291.97 167.13 292.21 167.20 292.45 167.27 292.68 167.33 292.92 167.40 293.16 167.47 293.39 167.54 293.63 167.61 293.87 167.68 294.10 167.75 294.34 167.81 294.57 167.88 294.81 167.95 295.05 168.02 295.28 168.09 295.52 168.16 295.76 168.23 295.99 168.29 296.23 168.36 296.46 168.43 296.70 168.50 296.94 168.57 297.17 168.64 297.41 168.71 297.65 168.77 297.88 168.84 298.12 168.91 298.35 168.98 298.59 169.05 298.83 169.12 299.06 169.19 299.30 169.26 299.54 169.32 299.77 169.39 300.01 169.46 300.24 169.54 300.48 169.61 300.72 169.68 300.95 169.76 301.19 169.83 301.43 169.91 301.66 169.98 301.90 170.05 302.13 170.13 302.37 170.20 302.61 170.28 302.84 170.35 303.08 170.43 303.32 170.50 303.55 170.57 303.79 170.65 304.03 170.72 304.26 170.80 304.50 170.87 304.73 170.95 304.97 171.02 305.21 171.09 305.44 171.17 305.68 171.24 305.92 171.32 306.15 171.39 306.39 171.47 306.62 171.54 306.86 171.62 307.10 171.69 307.33 171.76 307.57 171.84 307.81 171.91 308.04 171.99 308.28 172.06 308.51 172.14 308.75 172.21 308.99 172.29 309.22 172.36 309.46 172.44 309.70 172.51 309.93 172.59 310.17 172.66 310.40 172.73 310.64 172.81 310.88 172.88 311.11 172.96 311.35 173.03 311.59 173.11 311.82 173.18 312.06 173.26 312.29 173.33 312.53 173.41 312.77 173.48 313.00 173.56 313.24 173.63 313.48 173.71 313.71 173.78 313.95 173.86 314.19 173.93 314.42 174.01 314.66 174.08 314.89 174.16 315.13 174.24 315.37 174.31 315.60 174.39 315.84 174.46 316.08 174.54 316.31 174.61 316.55 174.69 316.78 174.76 317.02 174.84 317.26 174.91 317.49 174.99 317.73 175.06 317.97 175.14 318.20 175.22 318.44 175.29 318.67 175.37 318.91 175.44 319.15 175.52 319.38 175.59 319.62 175.67 319.86 175.75 320.09 175.82 320.33 175.90 320.56 175.97 320.80 176.05 321.04 176.13 321.27 176.20 321.51 176.28 321.75 176.35 321.98 176.43 322.22 176.51 322.45 176.58 322.69 176.66 322.93 176.73 323.16 176.81 323.40 176.89 323.64 176.96 323.87 177.04 324.11 177.12 324.35 177.19 324.58 177.27 324.82 177.34 325.05 177.42 325.29 177.50 325.53 177.57 325.76 177.65 326.00 177.73 326.24 177.80 326.47 177.88 326.71 177.96 326.94 178.03 327.18 178.11 327.42 178.19 327.65 178.27 327.89 178.34 328.13 178.42 328.36 178.50 328.60 178.57 328.83 178.65 329.07 178.73 329.31 178.80 329.54 178.88 329.78 178.96 330.02 179.04 330.25 179.11 330.49 179.18 330.72 179.25 330.96 179.32 331.20 179.39 331.43 179.47 331.67 179.54 331.91 179.61 332.14 179.68 332.38 179.75 332.61 179.83 332.85 179.90 333.09 179.97 333.32 180.04 333.56 180.11 333.80 180.19 334.03 180.26 334.27 180.33 334.51 180.40 334.74 180.47 334.98 180.55 335.21 180.62 335.45 180.69 335.69 180.77 335.92 180.84 336.16 180.91 336.40 180.98 336.63 181.06 336.87 181.13 337.10 181.20 337.34 181.27 337.58 181.35 337.81 181.42 338.05 181.49 338.29 181.57 338.52 181.64 338.76 181.71 338.99 181.79 339.23 181.86 339.47 181.93 339.70 182.01 339.94 182.08 340.18 182.16 340.41 182.23 340.65 182.30 340.88 182.38 341.12 182.45 341.36 182.53 341.59 182.60 341.83 182.67 342.07 182.75 342.30 182.82 342.54 182.90 342.77 182.97 343.01 183.05 343.25 183.12 343.48 183.20 343.72 183.27 343.96 183.35 344.19 183.42 344.43 183.50 344.67 183.57 344.90 183.65 345.14 183.72 345.37 183.80 345.61 183.87 345.85 183.95 346.08 184.02 346.32 184.10 346.56 184.18 346.79 184.25 347.03 184.33 347.26 184.40 347.50 184.48 347.74 184.56 347.97 184.63 348.21 184.71 348.45 184.79 348.68 184.86 348.92 184.94 349.15 185.02 349.39 185.09 349.63 185.17 349.86 185.25 350.10 185.32 350.34 185.40 350.57 185.47 350.81 185.55 351.04 185.62 351.28 185.70 351.52 185.78 351.75 185.85 351.99 185.93 352.23 186.00 352.46 186.08 352.70 186.16 352.93 186.23 353.17 186.31 353.41 186.39 353.64 186.46 353.88 186.54 354.12 186.62 354.35 186.69 354.59 186.77 354.83 186.85 355.06 186.92 355.30 187.00 355.53 187.08 355.77 187.16 356.01 187.24 356.24 187.31 356.48 187.39 356.72 187.47 356.95 187.55 357.19 187.63 357.42 187.71 357.66 187.79 357.90 187.87 358.13 187.95 358.37 188.03 358.61 188.11 358.84 188.19 359.08 188.27 359.31 188.35 359.55 188.43 359.79 188.51 360.02 188.59 360.26 188.67 360.50 188.75 360.73 188.83 360.97 188.91 361.20 188.99 361.44 189.08 361.68 189.16 361.91 189.24 362.15 189.32 362.39 189.41 362.62 189.49 362.86 189.57 363.09 189.66 363.33 189.74 363.57 189.82 363.80 189.91 364.04 189.99 364.28 190.08 364.51 190.16 364.75 190.25 364.99 190.33 365.22 190.42 365.46 190.50 365.69 190.59 365.93 190.68 366.17 190.76 366.40 190.85 366.64 190.94 366.88 191.02 367.11 191.11 367.35 191.20 367.58 191.29 367.82 191.38 368.06 191.46 368.29 191.55 368.53 191.64 368.77 191.73 369.00 191.82 369.24 191.91 369.47 192.00 369.71 192.10 369.95 192.19 370.18 192.28 370.42 192.38 370.66 192.48 370.89 192.58 371.13 192.68 371.36 192.79 371.60 192.89 371.84 192.99 372.07 193.09 372.31 193.19 372.55 193.30 372.78 193.40 373.02 193.51 373.25 193.61 373.49 193.71 373.73 193.82 373.96 193.93 374.20 194.03 374.44 194.14 374.67 194.25 374.91 194.35 375.15 194.46 375.38 194.57 375.62 194.68 375.85 194.79 376.09 194.90 376.33 195.01 376.56 195.12 376.80 195.23 377.04 195.35 377.27 195.46 377.51 195.57 377.74 195.69 377.98 195.80 378.22 195.92 378.45 196.04 378.69 196.15 378.93 196.27 379.16 196.39 379.40 196.51 379.63 196.63 379.87 196.75 380.11 196.87 380.34 197.00 380.58 197.12 380.82 197.24 381.05 197.37 381.29 197.50 381.52 197.62 381.76 197.75 382.00 197.88 382.23 198.01 382.47 198.14 382.71 198.27 382.94 198.41 383.18 198.54 383.41 198.68 383.65 198.81 383.89 198.95 384.12 199.09 384.36 199.23 384.60 199.37 384.83 199.51 385.07 199.66 385.31 199.83 385.54 200.00 385.78 200.18 386.01 200.35 386.25 200.53 386.49 200.70 386.72 200.88 386.96 201.06 387.20 201.25 387.43 201.43 387.67 201.62 387.90 201.80 388.14 201.99 388.38 202.19 388.61 202.38 388.85 202.58 389.09 202.78 389.32 202.98 389.56 203.18 389.79 203.39 390.03 203.59 390.27 203.81 390.50 204.02 390.74 204.24 390.98 204.46 391.21 204.68 391.45 204.90 391.68 205.13 391.92 205.37 392.16 205.60 392.39 205.84 392.63 206.09 392.87 206.33 393.10 206.59 393.34 206.84 393.58 207.10 393.81 207.37 393.99 207.57 394.17 207.78 394.34 207.99 394.52 208.20 394.70 208.41 394.87 208.63 395.05 208.87 395.23 209.14 395.41 209.42 395.58 209.70 395.76 209.99 395.94 210.27 396.12 210.57 396.29 210.87 396.41 211.07 396.53 211.27 396.65 211.48 396.76 211.68 396.88 211.89 397.00 212.11 397.12 212.32 397.24 212.54 397.36 212.76 397.47 212.98 397.59 213.21 397.71 213.44 397.83 213.67 397.95 213.91 398.06 214.14 398.18 214.39 398.30 214.63 398.42 214.88 398.54 215.13 398.66 215.39 398.77 215.64 398.89 215.91 399.01 216.18 399.13 216.45 399.25 216.72 399.36 217.00 399.48 217.29 399.60 217.58 399.72 217.88 399.84 218.18 399.95 218.48 400.07 218.75 400.19 218.99 400.31 219.24 400.43 219.50 400.55 219.76 400.66 220.03 400.78 220.30 400.90 220.59 401.02 220.88 401.14 221.18 401.25 221.49 401.37 221.81 401.49 222.14 401.61 222.48 401.73 222.83 401.84 223.20 401.96 223.58 402.08 223.96 402.14 224.16 402.20 224.37 402.26 224.58 402.32 224.79 402.38 225.00 402.44 225.22 402.49 225.45 402.55 225.67 402.61 225.91 402.67 226.14 402.73 226.38 402.79 226.63 402.85 226.88 402.91 227.14 402.97 227.40 403.03 227.67 403.09 227.95 403.14 228.23 403.20 228.52 403.26 228.81 403.32 229.11 403.38 229.42 403.44 229.73 403.50 230.06 403.56 230.39 403.62 230.73 403.68 231.08 403.74 231.44 403.79 231.81 403.85 232.19 403.91 232.58 403.97 232.98 404.03 233.38 404.09 233.79 404.15 234.21 404.21 234.64 404.27 235.09 404.33 235.56 404.38 236.04 404.44 236.54 404.50 237.06 404.56 237.60 404.62 238.16 404.68 238.75 404.74 239.36 404.80 239.99 404.86 240.66 404.92 241.36 404.98 242.10 405.03 242.87 405.09 243.68 405.15 244.54 405.21 245.45 405.27 246.42 405.33 247.45 405.39 248.56 405.45 249.74 405.51 251.02 405.57 252.40 405.63 253.91 405.68 255.57 405.74 257.41 405.80 259.47 405.86 261.80 405.92 264.48 405.98 267.64 406.04 271.47 406.10 276.31 406.16 282.88 406.22 293.04 406.28 315.92 406.30 343.50 406.33 310.01 406.39 290.68 406.45 281.07 406.51 274.60 406.57 269.70 406.63 265.75 406.69 262.43 406.75 259.56 406.81 257.03 406.87 254.76 406.92 252.71 406.98 250.83 407.04 249.10 407.10 247.48 407.16 245.98 407.22 244.56 407.28 243.22 407.34 241.95 407.40 240.75 407.46 239.59 407.52 238.49 407.57 237.44 407.63 236.42 407.69 235.45 407.75 234.50 407.81 233.59 407.87 232.71 407.93 231.85 407.99 231.02 408.05 230.21 408.11 229.43 408.17 228.66 408.22 227.91 408.28 227.18 408.34 226.46 408.40 225.77 408.46 225.08 408.52 224.41 408.58 223.75 408.64 223.10 408.70 222.47 408.76 221.85 408.82 221.23 408.87 220.63 408.93 220.03 408.99 219.45 409.05 218.90 409.11 218.37 409.17 217.85 409.23 217.33 409.29 216.83 409.35 216.32 409.41 215.83 409.46 215.34 409.52 214.85 409.58 214.37 409.64 213.90 409.70 213.43 409.76 212.96 409.82 212.50 409.88 212.05 409.94 211.60 410.00 211.15 410.06 210.70 410.11 210.26 410.17 209.83 410.23 209.39 410.29 208.96 410.35 208.53 410.41 208.10 410.47 207.68 410.53 207.26 410.59 206.84 410.65 206.42 410.71 206.01 410.76 205.60 410.82 205.19 410.88 204.78 410.94 204.37 411.00 203.96 411.06 203.56 411.12 203.15 411.18 202.75 411.24 202.35 411.30 201.95 411.36 201.55 411.41 201.15 411.47 200.75 411.53 200.35 411.59 199.96 411.65 199.56 411.71 199.16 411.77 198.76 411.83 198.37 411.89 197.97 411.95 197.57 412.00 197.17 412.06 196.77 412.12 196.38 412.18 195.98 412.24 195.58 412.30 195.17 412.36 194.77 412.42 194.37 412.48 193.97 412.54 193.56 412.60 193.15 412.65 192.75 412.71 192.34 412.77 191.92 412.83 191.51 412.89 191.10 412.95 190.68 413.01 190.26 413.07 189.84 413.13 189.41 413.19 188.99 413.25 188.56 413.30 188.12 413.36 187.69 413.42 187.25 413.48 186.81 413.54 186.36 413.60 185.91 413.66 185.46 413.72 185.00 413.78 184.54 413.84 184.07 413.90 183.60 413.95 183.13 414.01 182.64 414.07 182.16 414.13 181.66 414.19 181.17 414.25 180.66 414.31 180.15 414.37 179.63 414.43 179.10 414.49 178.57 414.54 178.03 414.60 177.48 414.66 176.92 414.72 176.35 414.78 175.77 414.84 175.18 414.90 174.58 414.96 173.97 415.02 173.34 415.08 172.70 415.14 172.05 415.19 171.38 415.25 170.70 415.31 170.00 415.37 169.28 415.43 168.54 415.49 167.78 415.55 167.00 415.61 166.19 415.67 165.36 415.73 164.50 415.79 163.61 415.84 162.69 415.90 161.73 415.96 160.73 416.02 159.69 416.08 158.60 416.14 157.46 416.20 156.26 416.26 154.99 416.32 153.64 416.38 152.21 416.44 150.68 416.49 149.04 416.55 147.25 416.61 145.31 416.67 143.17 416.73 140.79 416.79 138.10 416.85 135.01 416.91 131.36 416.97 126.91 417.03 121.17 417.08 113.08 417.14 99.13 417.20 53.80 417.20 56.30 417.26 100.90 417.32 113.73 417.38 121.34 417.44 126.75 417.50 130.95 417.56 134.37 417.62 137.26 417.68 139.75 417.73 141.95 417.79 143.90 417.85 145.67 417.91 147.27 417.97 148.75 418.03 150.10 418.09 151.36 418.15 152.54 418.21 153.64 418.27 154.67 418.33 155.65 418.38 156.57 418.44 157.45 418.50 158.28 418.56 159.07 418.62 159.83 418.68 160.55 418.74 161.24 418.80 161.90 418.86 162.54 418.92 163.16 418.98 163.75 419.03 164.32 419.09 164.87 419.15 165.40 419.21 165.92 419.27 166.42 419.33 166.90 419.39 167.37 419.45 167.82 419.51 168.27 419.57 168.70 419.62 169.11 419.68 169.52 419.74 169.92 419.80 170.31 419.86 170.68 419.92 171.05 419.98 171.41 420.04 171.76 420.10 172.10 420.16 172.44 420.22 172.77 420.27 173.09 420.33 173.40 420.39 173.71 420.45 174.01 420.51 174.31 420.57 174.60 420.63 174.88 420.69 175.16 420.75 175.44 420.81 175.70 420.87 175.97 420.92 176.23 420.98 176.48 421.04 176.73 421.10 176.98 421.16 177.22 421.22 177.46 421.28 177.69 421.34 177.92 421.40 178.15 421.46 178.37 421.52 178.59 421.57 178.81 421.63 179.03 421.69 179.24 421.75 179.44 421.81 179.65 421.87 179.85 421.99 180.25 422.11 180.63 422.22 181.01 422.34 181.37 422.46 181.73 422.58 182.08 422.70 182.42 422.81 182.76 422.93 183.08 423.05 183.40 423.17 183.71 423.29 184.02 423.41 184.32 423.52 184.62 423.64 184.91 423.76 185.19 423.88 185.47 424.00 185.74 424.11 186.01 424.23 186.28 424.35 186.54 424.47 186.80 424.59 187.05 424.70 187.31 424.82 187.55 424.94 187.80 425.06 188.04 425.18 188.28 425.30 188.52 425.41 188.76 425.53 189.00 425.65 189.23 425.77 189.46 425.89 189.69 426.00 189.91 426.12 190.14 426.24 190.36 426.36 190.58 426.48 190.80 426.60 191.02 426.71 191.24 426.83 191.45 426.95 191.66 427.07 191.88 427.19 192.09 427.30 192.30 427.42 192.51 427.54 192.72 427.66 192.93 427.78 193.14 427.89 193.35 428.01 193.56 428.13 193.76 428.25 193.97 428.37 194.18 428.49 194.39 428.60 194.60 428.72 194.81 428.84 195.02 428.96 195.23 429.08 195.45 429.19 195.66 429.31 195.88 429.43 196.10 429.55 196.32 429.67 196.54 429.78 196.76 429.90 196.99 430.02 197.22 430.14 197.45 430.26 197.69 430.38 197.93 430.49 198.17 430.61 198.42 430.73 198.67 430.85 198.93 430.97 199.20 431.08 199.47 431.20 199.75 431.32 200.03 431.44 200.33 431.56 200.63 431.68 200.95 431.79 201.27 431.91 201.61 432.03 201.97 432.15 202.33 432.27 202.72 432.32 202.92 432.38 203.13 432.44 203.34 432.50 203.56 432.56 203.78 432.62 204.01 432.68 204.24 432.74 204.49 432.80 204.74 432.86 205.00 432.92 205.27 432.97 205.55 433.03 205.84 433.09 206.15 433.15 206.46 433.21 206.79 433.27 207.13 433.33 207.49 433.39 207.86 433.45 208.25 433.51 208.66 433.57 209.10 433.62 209.56 433.68 210.04 433.74 210.56 433.80 211.11 433.86 211.69 433.92 212.32 433.98 213.00 434.04 213.72 434.10 214.51 434.16 215.37 434.22 216.31 434.27 217.35 434.33 218.50 434.39 219.78 434.45 221.24 434.51 222.90 434.57 224.82 434.63 227.10 434.69 229.84 434.75 233.27 434.81 237.76 434.86 244.09 434.92 254.46 434.98 281.33 435.00 299.90 435.04 264.24 435.10 246.65 435.16 236.91 435.22 229.94 435.28 224.37 435.34 219.64 435.40 215.46 435.46 211.64 435.51 208.07 435.57 204.68 435.63 201.39 435.69 198.16 435.75 194.93 435.81 191.66 435.87 188.30 435.93 184.79 435.99 181.05 436.05 176.98 436.11 172.42 436.16 167.12 436.22 160.62 436.28 151.88 436.34 137.60 436.40 94.50 436.46 136.50 436.52 149.01 436.58 156.12 436.64 161.01 436.70 164.68 436.76 167.58 436.81 169.97 436.87 171.98 436.93 173.70 436.99 175.20 437.05 176.53 437.11 177.71 437.17 178.77 437.23 179.73 437.29 180.60 437.35 181.40 437.40 182.14 437.46 182.82 437.52 183.45 437.58 184.04 437.64 184.59 437.70 185.11 437.76 185.60 437.82 186.06 437.88 186.49 437.94 186.90 438.00 187.29 438.05 187.66 438.11 188.01 438.17 188.35 438.23 188.67 438.29 188.98 438.35 189.27 438.41 189.56 438.47 189.83 438.53 190.09 438.59 190.35 438.65 190.59 438.70 190.82 438.76 191.05 438.82 191.27 438.88 191.48 438.94 191.69 439.00 191.89 439.12 192.27 439.24 192.64 439.35 192.98 439.47 193.31 439.59 193.62 439.71 193.92 439.83 194.20 439.94 194.47 440.06 194.73 440.18 194.97 440.30 195.19 440.42 195.41 440.54 195.63 440.65 195.83 440.83 196.13 441.01 196.41 441.19 196.68 441.36 196.94 441.54 197.19 441.72 197.43 441.89 197.66 442.07 197.88 442.25 198.10 442.43 198.31 442.60 198.51 442.84 198.78 443.08 199.03 443.31 199.28 443.55 199.52 443.78 199.75 444.02 199.98 444.26 200.20 444.49 200.41 444.73 200.62 444.97 200.83 445.20 201.03 445.44 201.23 445.67 201.42 445.91 201.61 446.15 201.80 446.38 201.99 446.62 202.17 446.86 202.35 447.09 202.53 447.33 202.70 447.56 202.88 447.80 203.05 448.04 203.22 448.27 203.39 448.51 203.56 448.75 203.73 448.98 203.89 449.22 204.06 449.46 204.22 449.69 204.39 449.93 204.55 450.16 204.71 450.40 204.87 450.64 205.03 450.87 205.19 451.11 205.35 451.35 205.51 451.58 205.67 451.82 205.83 452.05 205.99 452.29 206.15 452.53 206.31 452.76 206.47 453.00 206.63 453.24 206.79 453.47 206.95 453.71 207.11 453.94 207.28 454.18 207.44 454.42 207.61 454.65 207.77 454.89 207.94 455.13 208.10 455.36 208.27 455.60 208.44 455.83 208.62 456.07 208.79 456.31 208.96 456.54 209.14 456.78 209.32 457.02 209.50 457.25 209.69 457.49 209.87 457.72 210.06 457.96 210.25 458.20 210.45 458.43 210.65 458.67 210.85 458.91 211.06 459.14 211.27 459.38 211.48 459.62 211.70 459.85 211.93 460.09 212.16 460.32 212.39 460.56 212.64 460.80 212.89 461.03 213.14 461.27 213.41 461.45 213.62 461.62 213.83 461.80 214.04 461.98 214.26 462.16 214.49 462.33 214.73 462.51 214.97 462.69 215.22 462.86 215.48 463.04 215.75 463.22 216.03 463.40 216.32 463.57 216.62 463.69 216.83 463.81 217.04 463.93 217.26 464.05 217.49 464.16 217.72 464.28 217.96 464.40 218.21 464.52 218.47 464.64 218.73 464.75 219.01 464.87 219.29 464.99 219.59 465.11 219.90 465.23 220.23 465.34 220.57 465.46 220.92 465.58 221.29 465.70 221.68 465.76 221.88 465.82 222.08 465.88 222.29 465.94 222.51 465.99 222.73 466.05 222.95 466.11 223.19 466.17 223.43 466.23 223.67 466.29 223.92 466.35 224.18 466.41 224.45 466.47 224.73 466.53 225.01 466.59 225.30 466.64 225.61 466.70 225.92 466.76 226.24 466.82 226.58 466.88 226.92 466.94 227.28 467.00 227.66 467.06 228.05 467.12 228.45 467.18 228.87 467.24 229.31 467.29 229.76 467.35 230.24 467.41 230.74 467.47 231.26 467.53 231.81 467.59 232.39 467.65 233.00 467.71 233.64 467.77 234.32 467.83 235.04 467.88 235.81 467.94 236.63 468.00 237.50 468.06 238.44 468.12 239.45 468.18 240.55 468.24 241.74 468.30 243.05 468.36 244.49 468.42 246.09 468.48 247.88 468.53 249.92 468.59 252.27 468.65 255.03 468.71 258.35 468.77 262.50 468.83 267.97 468.89 275.93 468.95 290.29 469.00 336.10 469.01 324.62 469.07 284.90 469.13 272.25 469.18 264.44 469.24 258.71 469.30 254.15 469.36 250.33 469.42 247.03 469.48 244.11 469.54 241.47 469.60 239.06 469.66 236.83 469.72 234.75 469.78 232.79 469.83 230.93 469.89 229.16 469.95 227.46 470.01 225.82 470.07 224.24 470.13 222.70 470.19 221.20 470.25 219.74 470.31 218.30 470.37 216.88 470.42 215.49 470.48 214.10 470.54 212.73 470.60 211.36 470.66 210.00 470.72 208.63 470.78 207.26 470.84 205.89 470.90 204.50 470.96 203.09 471.02 201.67 471.07 200.22 471.13 198.74 471.19 197.23 471.25 195.68 471.31 194.08 471.37 192.42 471.43 190.69 471.49 188.89 471.55 186.99 471.61 184.99 471.67 182.85 471.72 180.56 471.78 178.07 471.84 175.33 471.90 172.28 471.96 168.80 472.02 164.73 472.08 159.79 472.14 153.43 472.20 144.30 472.26 127.48 472.30 70.50 472.32 106.75 472.37 136.99 472.43 148.02 472.49 154.82 472.55 159.71 472.61 163.50 472.67 166.59 472.73 169.17 472.79 171.39 472.85 173.33 472.91 175.05 472.96 176.59 473.02 177.97 473.08 179.23 473.14 180.39 473.20 181.45 473.26 182.44 473.32 183.35 473.38 184.20 473.44 185.00 473.50 185.75 473.56 186.45 473.61 187.12 473.67 187.75 473.73 188.34 473.79 188.91 473.85 189.45 473.91 189.96 473.97 190.45 474.03 190.92 474.09 191.37 474.15 191.80 474.21 192.22 474.26 192.61 474.32 192.99 474.38 193.36 474.44 193.72 474.50 194.06 474.56 194.39 474.62 194.71 474.68 195.02 474.74 195.32 474.80 195.61 474.86 195.89 474.91 196.16 474.97 196.42 475.03 196.68 475.09 196.93 475.15 197.17 475.21 197.41 475.27 197.64 475.33 197.86 475.39 198.08 475.45 198.29 475.50 198.50 475.56 198.71 475.68 199.10 475.80 199.47 475.92 199.83 476.04 200.17 476.15 200.50 476.27 200.82 476.39 201.12 476.51 201.41 476.63 201.70 476.75 201.97 476.86 202.23 476.98 202.49 477.10 202.74 477.22 202.97 477.34 203.21 477.45 203.43 477.57 203.65 477.69 203.87 477.81 204.07 477.93 204.28 478.10 204.57 478.28 204.85 478.46 205.13 478.64 205.39 478.81 205.65 478.99 205.90 479.17 206.14 479.34 206.37 479.52 206.60 479.70 206.82 479.88 207.04 480.05 207.25 480.23 207.46 480.41 207.67 480.58 207.87 480.82 208.13 481.06 208.39 481.29 208.64 481.53 208.89 481.77 209.13 482.00 209.36 482.24 209.59 482.48 209.82 482.71 210.04 482.95 210.26 483.18 210.48 483.42 210.69 483.66 210.91 483.89 211.11 484.13 211.32 484.37 211.53 484.60 211.73 484.84 211.93 485.07 212.13 485.31 212.33 485.55 212.53 485.78 212.73 486.02 212.93 486.26 213.13 486.49 213.33 486.73 213.53 486.96 213.73 487.20 213.93 487.44 214.14 487.67 214.35 487.91 214.56 488.15 214.77 488.38 214.99 488.62 215.21 488.85 215.44 489.09 215.67 489.33 215.91 489.56 216.17 489.80 216.43 489.98 216.64 490.15 216.85 490.33 217.08 490.51 217.32 490.69 217.58 490.86 217.86 491.04 218.16 491.16 218.37 491.28 218.61 491.39 218.86 491.51 219.13 491.63 219.42 491.75 219.75 491.87 220.12 491.93 220.32 491.99 220.53 492.04 220.76 492.10 221.01 492.16 221.28 492.22 221.57 492.28 221.88 492.34 222.23 492.40 222.61 492.46 223.04 492.52 223.52 492.58 224.06 492.64 224.68 492.69 225.39 492.75 226.22 492.81 227.20 492.87 228.37 492.93 229.77 492.99 231.44 493.05 233.33 493.11 235.09 493.17 235.49 493.20 234.30 493.23 232.43 493.28 225.62 493.34 216.91 493.40 207.74 493.46 199.66 493.50 196.50 493.52 195.74 493.58 196.63 493.64 199.22 493.70 201.72 493.76 203.78 493.82 205.44 493.88 206.78 493.93 207.89 493.99 208.81 494.05 209.60 494.11 210.27 494.17 210.86 494.23 211.37 494.29 211.83 494.35 212.24 494.41 212.61 494.47 212.95 494.53 213.26 494.58 213.54 494.64 213.80 494.70 214.05 494.76 214.28 494.82 214.49 494.88 214.69 495.00 215.06 495.12 215.40 495.23 215.70 495.35 215.99 495.47 216.25 495.59 216.50 495.71 216.73 495.82 216.95 495.94 217.17 496.06 217.37 496.24 217.67 496.42 217.95 496.59 218.23 496.77 218.50 496.95 218.76 497.12 219.02 497.30 219.28 497.48 219.54 497.66 219.80 497.83 220.06 498.01 220.32 498.19 220.59 498.36 220.86 498.54 221.14 498.72 221.42 498.90 221.72 499.01 221.92 499.13 222.13 499.25 222.34 499.37 222.56 499.49 222.78 499.61 223.02 499.72 223.26 499.84 223.50 499.96 223.76 500.08 224.01 500.20 224.25 500.31 224.51 500.43 224.78 500.55 225.07 500.67 225.37 500.79 225.69 500.90 226.04 501.02 226.40 501.14 226.80 501.20 227.00 501.26 227.22 501.32 227.44 501.38 227.68 501.44 227.92 501.50 228.18 501.55 228.44 501.61 228.72 501.67 229.01 501.73 229.31 501.79 229.63 501.85 229.97 501.91 230.32 501.97 230.70 502.03 231.09 502.09 231.51 502.15 231.95 502.20 232.43 502.26 232.93 502.32 233.47 502.38 234.05 502.44 234.68 502.50 235.35 502.56 236.08 502.62 236.87 502.68 237.75 502.74 238.70 502.80 239.76 502.85 240.95 502.91 242.28 502.97 243.79 503.03 245.54 503.09 247.57 503.15 249.99 503.21 252.96 503.27 256.71 503.33 261.74 503.39 269.14 503.44 282.53 503.50 333.50 503.50 326.16 503.56 278.36 503.62 264.79 503.68 256.32 503.74 249.98 503.80 244.80 503.86 240.35 503.92 236.38 503.98 232.74 504.04 229.34 504.09 226.10 504.15 222.97 504.21 219.90 504.27 216.86 504.33 213.80 504.39 210.70 504.45 207.49 504.51 204.13 504.57 200.56 504.63 196.69 504.69 192.38 504.74 187.42 504.80 181.44 504.86 173.66 504.92 161.98 504.98 134.50 505.00 106.60 505.04 147.49 505.10 164.28 505.16 172.64 505.22 178.13 505.28 182.15 505.34 185.28 505.39 187.83 505.45 189.95 505.51 191.76 505.57 193.33 505.63 194.70 505.69 195.92 505.75 197.01 505.81 197.99 505.87 198.88 505.93 199.70 505.98 200.44 506.04 201.13 506.10 201.76 506.16 202.35 506.22 202.90 506.28 203.41 506.34 203.89 506.40 204.35 506.46 204.77 506.52 205.17 506.58 205.55 506.63 205.91 506.69 206.25 506.75 206.57 506.81 206.88 506.87 207.17 506.93 207.45 506.99 207.71 507.05 207.97 507.11 208.22 507.17 208.45 507.23 208.68 507.28 208.89 507.34 209.10 507.40 209.30 507.52 209.68 507.64 210.04 507.76 210.37 507.88 210.68 507.99 210.97 508.11 211.25 508.23 211.51 508.35 211.76 508.47 212.00 508.58 212.22 508.70 212.44 508.82 212.64 509.00 212.93 509.17 213.21 509.35 213.47 509.53 213.71 509.71 213.95 509.88 214.18 510.06 214.39 510.24 214.60 510.42 214.80 510.65 215.06 510.89 215.31 511.12 215.55 511.36 215.79 511.60 216.03 511.83 216.27 512.07 216.55 512.19 216.75 512.31 216.96 512.42 217.16 512.54 217.37 512.66 217.58 512.78 217.79 512.90 218.01 513.01 218.23 513.13 218.45 513.25 218.68 513.37 218.92 513.49 219.16 513.61 219.42 513.72 219.68 513.84 219.96 513.96 220.25 514.08 220.55 514.20 220.88 514.31 221.23 514.43 221.62 514.49 221.82 514.55 222.04 514.61 222.27 514.67 222.51 514.73 222.77 514.79 223.05 514.85 223.34 514.90 223.66 514.96 224.01 515.02 224.39 515.08 224.81 515.14 225.28 515.20 225.80 515.26 226.40 515.32 227.08 515.38 227.88 515.44 228.83 515.50 229.97 515.55 231.40 515.61 233.24 515.67 235.72 515.73 239.31 515.79 245.11 515.85 257.10 515.90 295.20 515.91 283.82 515.97 243.57 516.03 225.89 516.09 210.56 516.15 191.67 516.20 161.90 516.20 162.34 516.26 186.70 516.32 196.26 516.38 201.35 516.44 204.61 516.50 206.91 516.56 208.63 516.62 209.99 516.68 211.08 516.74 211.98 516.79 212.75 516.85 213.41 516.91 213.99 516.97 214.50 517.03 214.95 517.09 215.36 517.15 215.73 517.21 216.07 517.27 216.38 517.33 216.67 517.39 216.93 517.44 217.19 517.50 217.42 517.56 217.64 517.62 217.85 517.74 218.24 517.86 218.60 517.98 218.93 518.09 219.23 518.21 219.51 518.33 219.78 518.45 220.04 518.57 220.28 518.69 220.52 518.80 220.74 518.92 220.96 519.04 221.17 519.16 221.37 519.33 221.67 519.51 221.96 519.69 222.24 519.87 222.51 520.04 222.78 520.22 223.04 520.40 223.30 520.58 223.55 520.75 223.81 520.93 224.06 521.11 224.31 521.28 224.56 521.46 224.81 521.64 225.06 521.82 225.31 521.99 225.56 522.23 225.71 522.47 225.86 522.70 226.02 522.94 226.18 523.17 226.35 523.41 226.53 523.65 226.73 523.88 226.93 524.12 227.15 524.36 227.39 524.59 227.66 524.77 227.88 524.95 228.11 525.12 228.37 525.30 228.65 525.42 228.86 525.54 229.08 525.66 229.31 525.77 229.57 525.89 229.85 526.01 230.15 526.13 230.48 526.25 230.85 526.36 231.26 526.42 231.48 526.48 231.71 526.54 231.96 526.60 232.23 526.66 232.51 526.72 232.81 526.78 233.13 526.84 233.48 526.90 233.85 526.95 234.25 527.01 234.68 527.07 235.16 527.13 235.67 527.19 236.24 527.25 236.87 527.31 237.57 527.37 238.34 527.43 239.22 527.49 240.21 527.55 241.35 527.60 242.68 527.66 244.24 527.72 246.12 527.78 248.43 527.84 251.36 527.90 255.27 527.96 260.87 528.02 270.14 528.08 293.46 528.10 339.40 528.14 283.17 528.20 262.89 528.25 251.85 528.31 243.72 528.37 236.93 528.43 230.83 528.49 225.05 528.55 219.31 528.61 213.34 528.67 206.83 528.73 199.23 528.79 189.40 528.85 173.69 528.90 118.00 528.90 126.85 528.96 173.54 529.02 185.04 529.08 191.48 529.14 195.81 529.20 199.01 529.26 201.49 529.32 203.48 529.38 205.14 529.44 206.53 529.49 207.72 529.55 208.76 529.61 209.67 529.67 210.47 529.73 211.19 529.79 211.84 529.85 212.43 529.91 212.96 529.97 213.44 530.03 213.89 530.09 214.30 530.14 214.68 530.20 215.03 530.26 215.36 530.32 215.67 530.38 215.95 530.44 216.22 530.50 216.47 530.56 216.71 530.62 216.93 530.68 217.14 530.74 217.34 530.85 217.71 530.97 218.05 531.09 218.35 531.21 218.63 531.33 218.89 531.44 219.12 531.56 219.34 531.68 219.54 531.86 219.82 532.03 220.08 532.21 220.36 532.39 220.61 532.57 220.85 532.74 221.07 532.92 221.28 533.16 221.54 533.39 221.79 533.63 222.02 533.87 222.23 534.10 222.44 534.34 222.64 534.57 222.83 534.81 223.01 535.05 223.19 535.28 223.36 535.52 223.52 535.76 223.69 535.99 223.84 536.23 224.00 536.47 224.15 536.70 224.30 536.94 224.45 537.17 224.60 537.41 224.74 537.65 224.89 537.88 225.03 538.12 225.17 538.36 225.32 538.59 225.46 538.83 225.61 539.06 225.75 539.30 225.90 539.54 226.05 539.77 226.20 540.01 226.35 540.25 226.51 540.48 226.67 540.72 226.83 540.95 227.00 541.19 227.18 541.43 227.36 541.66 227.54 541.90 227.74 542.14 227.94 542.37 228.15 542.61 228.38 542.84 228.62 543.08 228.88 543.26 229.08 543.44 229.30 543.61 229.54 543.79 229.78 543.97 230.05 544.14 230.34 544.26 230.55 544.38 230.78 544.50 231.01 544.62 231.27 544.73 231.54 544.85 231.84 544.97 232.16 545.09 232.51 545.21 232.90 545.27 233.11 545.33 233.33 545.38 233.57 545.44 233.81 545.50 234.08 545.56 234.35 545.62 234.65 545.68 234.97 545.74 235.30 545.80 235.67 545.86 236.06 545.92 236.48 545.98 236.94 546.03 237.44 546.09 237.99 546.15 238.60 546.21 239.27 546.27 240.02 546.33 240.87 546.39 241.83 546.45 242.93 546.51 244.21 546.57 245.73 546.63 247.55 546.68 249.81 546.74 252.68 546.80 256.54 546.86 262.12 546.92 271.47 546.98 295.77 547.00 323.90 547.04 282.26 547.10 262.60 547.16 251.47 547.22 243.07 547.27 235.89 547.33 229.25 547.39 222.71 547.45 215.88 547.51 208.26 547.57 198.90 547.63 185.25 547.69 148.73 547.70 106.60 547.75 174.22 547.81 188.45 547.87 195.66 547.92 200.32 547.98 203.68 548.04 206.24 548.10 208.28 548.16 209.96 548.22 211.36 548.28 212.56 548.34 213.60 548.40 214.50 548.46 215.31 548.52 216.02 548.57 216.67 548.63 217.25 548.69 217.78 548.75 218.26 548.81 218.71 548.87 219.12 548.93 219.51 548.99 219.86 549.05 220.19 549.11 220.50 549.17 220.80 549.22 221.07 549.28 221.33 549.34 221.58 549.40 221.81 549.46 222.03 549.52 222.24 549.58 222.45 549.70 222.82 549.81 223.17 549.93 223.50 550.05 223.80 550.17 224.08 550.29 224.34 550.41 224.59 550.52 224.83 550.64 225.06 550.76 225.27 550.88 225.48 551.00 225.68 551.17 225.97 551.35 226.24 551.53 226.51 551.71 226.77 551.88 227.02 552.06 227.26 552.24 227.51 552.41 227.75 552.59 227.99 552.77 228.23 552.95 228.47 553.12 228.72 553.30 228.99 553.48 229.26 553.65 229.54 553.83 229.82 553.95 230.03 554.07 230.23 554.19 230.45 554.30 230.67 554.42 230.91 554.54 231.16 554.66 231.42 554.78 231.70 554.89 232.00 555.01 232.32 555.13 232.67 555.25 233.06 555.31 233.27 555.37 233.49 555.43 233.72 555.49 233.97 555.54 234.23 555.60 234.51 555.66 234.81 555.72 235.14 555.78 235.49 555.84 235.88 555.90 236.30 555.96 236.77 556.02 237.29 556.08 237.87 556.14 238.52 556.19 239.27 556.25 240.14 556.31 241.16 556.37 242.39 556.43 243.88 556.49 245.77 556.55 248.23 556.61 251.63 556.67 256.77 556.73 265.88 556.79 293.21 556.80 312.90 556.84 270.34 556.90 250.55 556.96 237.55 557.02 226.06 557.08 213.76 557.14 196.94 557.20 140.56 557.20 139.10 557.26 190.35 557.32 201.70 557.38 207.59 557.43 211.37 557.49 214.06 557.55 216.08 557.61 217.68 557.67 218.98 557.73 220.06 557.79 220.98 557.85 221.77 557.91 222.47 557.97 223.08 558.03 223.63 558.08 224.12 558.14 224.57 558.20 224.99 558.26 225.37 558.32 225.72 558.38 226.05 558.44 226.36 558.50 226.65 558.56 226.92 558.62 227.19 558.68 227.44 558.73 227.67 558.79 227.90 558.85 228.12 558.91 228.34 558.97 228.55 559.03 228.75 559.15 229.13 559.27 229.51 559.38 229.87 559.50 230.22 559.62 230.56 559.74 230.90 559.86 231.25 559.97 231.59 560.09 231.93 560.21 232.29 560.33 232.65 560.45 233.02 560.57 233.40 560.68 233.80 560.74 234.01 560.80 234.22 560.86 234.44 560.92 234.66 560.98 234.89 561.04 235.13 561.10 235.37 561.16 235.62 561.22 235.88 561.27 236.16 561.33 236.44 561.39 236.73 561.45 237.04 561.51 237.36 561.57 237.69 561.63 238.04 561.69 238.41 561.75 238.80 561.81 239.21 561.87 239.64 561.92 240.11 561.98 240.60 562.04 241.12 562.10 241.69 562.16 242.29 562.22 242.95 562.28 243.66 562.34 244.44 562.40 245.29 562.46 246.22 562.51 247.27 562.57 248.43 562.63 249.75 562.69 251.26 562.75 253.01 562.81 255.08 562.87 257.56 562.93 260.65 562.99 264.64 563.05 270.16 563.11 278.74 563.16 296.90 563.20 359.70 563.22 303.70 563.28 278.54 563.34 267.09 563.40 259.26 563.46 253.12 563.52 247.92 563.58 243.32 563.64 239.09 563.70 235.11 563.76 231.26 563.81 227.47 563.87 223.66 563.93 219.76 563.99 215.67 564.05 211.28 564.11 206.42 564.17 200.83 564.23 194.00 564.29 184.84 564.35 169.72 564.40 134.00 564.41 136.60 564.46 171.16 564.52 182.81 564.58 189.56 564.64 194.20 564.70 197.69 564.76 200.45 564.82 202.70 564.88 204.59 564.94 206.21 565.00 207.61 565.05 208.85 565.11 209.94 565.17 210.92 565.23 211.80 565.29 212.60 565.35 213.34 565.41 214.01 565.47 214.62 565.53 215.20 565.59 215.73 565.65 216.22 565.70 216.68 565.76 217.12 565.82 217.52 565.88 217.91 565.94 218.27 566.00 218.61" stroke="#2323b0" stroke-width="1.9"/>
</g>
<path d="M93.50 404.50h5.0 M566.00 404.50h-5.0 M93.50 391.07h2.8 M566.00 391.07h-2.8 M93.50 383.21h2.8 M566.00 383.21h-2.8 M93.50 377.63h2.8 M566.00 377.63h-2.8 M93.50 373.31h2.8 M566.00 373.31h-2.8 M93.50 369.78h2.8 M566.00 369.78h-2.8 M93.50 366.79h2.8 M566.00 366.79h-2.8 M93.50 364.20h2.8 M566.00 364.20h-2.8 M93.50 361.92h2.8 M566.00 361.92h-2.8 M93.50 359.88h5.0 M566.00 359.88h-5.0 M93.50 346.44h2.8 M566.00 346.44h-2.8 M93.50 338.58h2.8 M566.00 338.58h-2.8 M93.50 333.01h2.8 M566.00 333.01h-2.8 M93.50 328.68h2.8 M566.00 328.68h-2.8 M93.50 325.15h2.8 M566.00 325.15h-2.8 M93.50 322.16h2.8 M566.00 322.16h-2.8 M93.50 319.57h2.8 M566.00 319.57h-2.8 M93.50 317.29h2.8 M566.00 317.29h-2.8 M93.50 315.25h5.0 M566.00 315.25h-5.0 M93.50 301.82h2.8 M566.00 301.82h-2.8 M93.50 293.96h2.8 M566.00 293.96h-2.8 M93.50 288.38h2.8 M566.00 288.38h-2.8 M93.50 284.06h2.8 M566.00 284.06h-2.8 M93.50 280.53h2.8 M566.00 280.53h-2.8 M93.50 277.54h2.8 M566.00 277.54h-2.8 M93.50 274.95h2.8 M566.00 274.95h-2.8 M93.50 272.67h2.8 M566.00 272.67h-2.8 M93.50 270.62h5.0 M566.00 270.62h-5.0 M93.50 257.19h2.8 M566.00 257.19h-2.8 M93.50 249.33h2.8 M566.00 249.33h-2.8 M93.50 243.76h2.8 M566.00 243.76h-2.8 M93.50 239.43h2.8 M566.00 239.43h-2.8 M93.50 235.90h2.8 M566.00 235.90h-2.8 M93.50 232.91h2.8 M566.00 232.91h-2.8 M93.50 230.32h2.8 M566.00 230.32h-2.8 M93.50 228.04h2.8 M566.00 228.04h-2.8 M93.50 226.00h5.0 M566.00 226.00h-5.0 M93.50 212.57h2.8 M566.00 212.57h-2.8 M93.50 204.71h2.8 M566.00 204.71h-2.8 M93.50 199.13h2.8 M566.00 199.13h-2.8 M93.50 194.81h2.8 M566.00 194.81h-2.8 M93.50 191.28h2.8 M566.00 191.28h-2.8 M93.50 188.29h2.8 M566.00 188.29h-2.8 M93.50 185.70h2.8 M566.00 185.70h-2.8 M93.50 183.42h2.8 M566.00 183.42h-2.8 M93.50 181.38h5.0 M566.00 181.38h-5.0 M93.50 167.94h2.8 M566.00 167.94h-2.8 M93.50 160.08h2.8 M566.00 160.08h-2.8 M93.50 154.51h2.8 M566.00 154.51h-2.8 M93.50 150.18h2.8 M566.00 150.18h-2.8 M93.50 146.65h2.8 M566.00 146.65h-2.8 M93.50 143.66h2.8 M566.00 143.66h-2.8 M93.50 141.07h2.8 M566.00 141.07h-2.8 M93.50 138.79h2.8 M566.00 138.79h-2.8 M93.50 136.75h5.0 M566.00 136.75h-5.0 M93.50 123.32h2.8 M566.00 123.32h-2.8 M93.50 115.46h2.8 M566.00 115.46h-2.8 M93.50 109.88h2.8 M566.00 109.88h-2.8 M93.50 105.56h2.8 M566.00 105.56h-2.8 M93.50 102.03h2.8 M566.00 102.03h-2.8 M93.50 99.04h2.8 M566.00 99.04h-2.8 M93.50 96.45h2.8 M566.00 96.45h-2.8 M93.50 94.17h2.8 M566.00 94.17h-2.8 M93.50 92.12h5.0 M566.00 92.12h-5.0 M93.50 78.69h2.8 M566.00 78.69h-2.8 M93.50 70.83h2.8 M566.00 70.83h-2.8 M93.50 65.26h2.8 M566.00 65.26h-2.8 M93.50 60.93h2.8 M566.00 60.93h-2.8 M93.50 57.40h2.8 M566.00 57.40h-2.8 M93.50 54.41h2.8 M566.00 54.41h-2.8 M93.50 51.82h2.8 M566.00 51.82h-2.8 M93.50 49.54h2.8 M566.00 49.54h-2.8 M93.50 404.50v-5.0 M93.50 47.50v5.0 M140.91 404.50v-2.8 M140.91 47.50v2.8 M168.65 404.50v-2.8 M168.65 47.50v2.8 M188.32 404.50v-2.8 M188.32 47.50v2.8 M203.59 404.50v-2.8 M203.59 47.50v2.8 M216.06 404.50v-2.8 M216.06 47.50v2.8 M226.60 404.50v-2.8 M226.60 47.50v2.8 M235.74 404.50v-2.8 M235.74 47.50v2.8 M243.79 404.50v-2.8 M243.79 47.50v2.8 M251.00 404.50v-5.0 M251.00 47.50v5.0 M298.41 404.50v-2.8 M298.41 47.50v2.8 M326.15 404.50v-2.8 M326.15 47.50v2.8 M345.82 404.50v-2.8 M345.82 47.50v2.8 M361.09 404.50v-2.8 M361.09 47.50v2.8 M373.56 404.50v-2.8 M373.56 47.50v2.8 M384.10 404.50v-2.8 M384.10 47.50v2.8 M393.24 404.50v-2.8 M393.24 47.50v2.8 M401.29 404.50v-2.8 M401.29 47.50v2.8 M408.50 404.50v-5.0 M408.50 47.50v5.0 M455.91 404.50v-2.8 M455.91 47.50v2.8 M483.65 404.50v-2.8 M483.65 47.50v2.8 M503.32 404.50v-2.8 M503.32 47.50v2.8 M518.59 404.50v-2.8 M518.59 47.50v2.8 M531.06 404.50v-2.8 M531.06 47.50v2.8 M541.60 404.50v-2.8 M541.60 47.50v2.8 M550.74 404.50v-2.8 M550.74 47.50v2.8 M558.79 404.50v-2.8 M558.79 47.50v2.8" stroke="#000" stroke-width="1.4" fill="none"/>
<rect x="93.5" y="47.5" width="472.5" height="357.0" fill="none" stroke="#000" stroke-width="1.6"/>
<text x="51.4" y="410.80" font-size="17.6">10</text>
<rect x="70.3" y="400.90" width="7.3" height="1.0" fill="#111"/>
<text x="86.4" y="404.70" font-size="13.0" text-anchor="end">4</text>
<text x="51.4" y="366.18" font-size="17.6">10</text>
<rect x="70.3" y="356.27" width="7.3" height="1.0" fill="#111"/>
<text x="86.4" y="360.07" font-size="13.0" text-anchor="end">3</text>
<text x="51.4" y="321.55" font-size="17.6">10</text>
<rect x="70.3" y="311.65" width="7.3" height="1.0" fill="#111"/>
<text x="86.4" y="315.45" font-size="13.0" text-anchor="end">2</text>
<text x="51.4" y="276.93" font-size="17.6">10</text>
<rect x="70.3" y="267.02" width="7.3" height="1.0" fill="#111"/>
<text x="86.4" y="270.82" font-size="13.0" text-anchor="end">1</text>
<text x="61.6" y="232.30" font-size="17.6">10</text>
<text x="86.4" y="226.20" font-size="13.0" text-anchor="end">0</text>
<text x="61.6" y="187.68" font-size="17.6">10</text>
<text x="86.4" y="181.57" font-size="13.0" text-anchor="end">1</text>
<text x="61.6" y="143.05" font-size="17.6">10</text>
<text x="86.4" y="136.95" font-size="13.0" text-anchor="end">2</text>
<text x="61.6" y="98.42" font-size="17.6">10</text>
<text x="86.4" y="92.33" font-size="13.0" text-anchor="end">3</text>
<text x="61.6" y="53.80" font-size="17.6">10</text>
<text x="86.4" y="47.70" font-size="13.0" text-anchor="end">4</text>
<text x="80.30" y="428.6" font-size="17.6">10</text>
<text x="98.20" y="422.4" font-size="13.0">2</text>
<text x="237.80" y="428.6" font-size="17.6">10</text>
<text x="255.70" y="422.4" font-size="13.0">3</text>
<text x="395.30" y="428.6" font-size="17.6">10</text>
<text x="413.20" y="422.4" font-size="13.0">4</text>
<text x="552.80" y="428.6" font-size="17.6">10</text>
<text x="570.70" y="422.4" font-size="13.0">5</text>
<text class="w" x="127.29" y="35.8" font-size="17.6" textLength="36.81" lengthAdjust="spacingAndGlyphs">Bode</text>
<text class="w" x="168.89" y="35.8" font-size="17.6" textLength="82.80" lengthAdjust="spacingAndGlyphs">magnitude</text>
<text class="w" x="255.78" y="35.8" font-size="17.6" textLength="116.29" lengthAdjust="spacingAndGlyphs">diagram-piezo</text>
<text class="w" x="376.28" y="35.8" font-size="17.6" textLength="27.82" lengthAdjust="spacingAndGlyphs">with</text>
<text class="w" x="409.48" y="35.8" font-size="17.6" textLength="126.80" lengthAdjust="spacingAndGlyphs">case-comparison</text>
<text class="w" x="271.57" y="458.0" font-size="17.6" textLength="76.80" lengthAdjust="spacingAndGlyphs">Frequency</text>
<text class="w" x="354.16" y="458.0" font-size="17.6" textLength="34.98" lengthAdjust="spacingAndGlyphs">(Hz)</text>
<text class="w" transform="rotate(-90)" x="-292.27" y="34.9" font-size="17.6" textLength="82.24" lengthAdjust="spacingAndGlyphs">Impedance</text>
<text class="w" transform="rotate(-90)" x="-204.46" y="34.9" font-size="17.6" textLength="51.81" lengthAdjust="spacingAndGlyphs">(Ohm)</text>
<path d="M95 490.5H126" stroke="#d42e2e" stroke-width="1.4"/>
<path d="M95 514.2H126" stroke="#2323b0" stroke-width="1.4"/>
<text class="w" x="138.45" y="496.8" font-size="18.4" textLength="101.32" lengthAdjust="spacingAndGlyphs">Experimental</text>
<text class="w" x="138.18" y="520.4" font-size="18.4" textLength="36.53" lengthAdjust="spacingAndGlyphs">FEM</text>
<text class="w" x="179.30" y="520.4" font-size="18.4" textLength="47.77" lengthAdjust="spacingAndGlyphs">model</text>
</svg></body></html>
